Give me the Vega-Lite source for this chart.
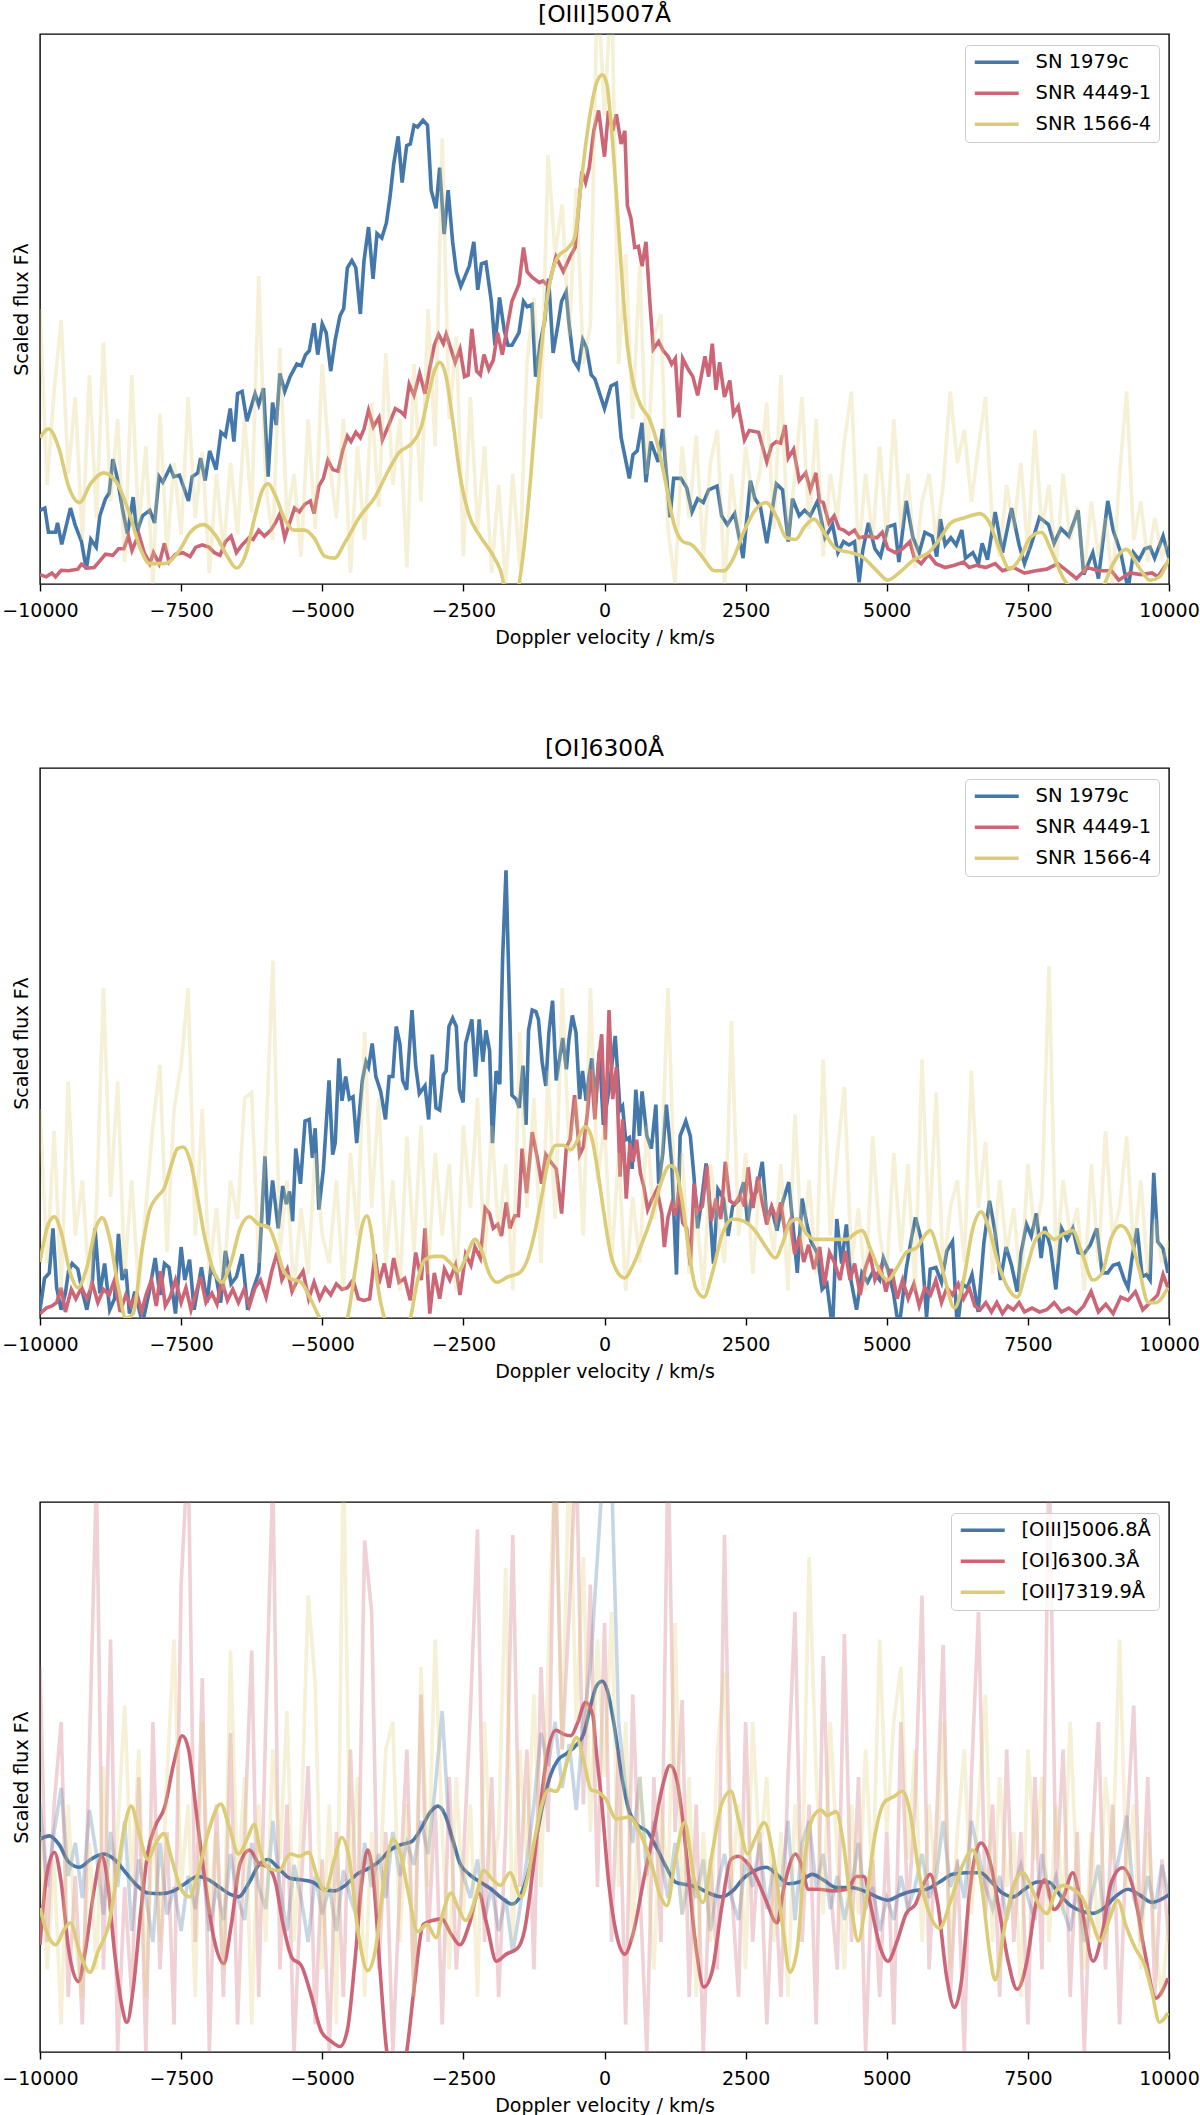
{
"$schema":"https://vega.github.io/schema/vega-lite/v6.json",
"background":"white",
"padding":{"left":1,"top":1,"right":0,"bottom":0},
"spacing":184,
"bounds":"flush",
"config":{
 "font":"DejaVu Sans",
 "view":{"stroke":"black","strokeWidth":1.4},
 "axis":{"grid":false,"domain":false,"labelFontSize":19,"titleFontSize":19,"titleFontWeight":"normal","labelColor":"black","titleColor":"black","tickColor":"black","tickWidth":1.4},
 "title":{"fontSize":23.4,"fontWeight":"normal","color":"black","offset":7,"anchor":"middle"},
 "legend":{"title":null,"orient":"top-right","offset":10.5,"symbolType":"M-1.07,0H5.21","symbolSize":196,"symbolStrokeWidth":3.6,"labelFontSize":19.5,"labelOffset":43.5,"padding":7.5,"rowPadding":10,"fillColor":"rgba(255,255,255,0.8)","strokeColor":"#cccccc","cornerRadius":4,"labelLimit":0,"labelColor":"black"}
},
"datasets":{
"p1":[
{"s":"a","x":-10000,"y":13.4},{"s":"a","x":-9915,"y":13.8},{"s":"a","x":-9850,"y":9.4},{"s":"a","x":-9725,"y":9.4},{"s":"a","x":-9690,"y":11.1},{"s":"a","x":-9615,"y":7.2},{"s":"a","x":-9460,"y":13.8},{"s":"a","x":-9380,"y":10.8},{"s":"a","x":-9265,"y":7.7},{"s":"a","x":-9180,"y":2.7},{"s":"a","x":-9100,"y":8.1},{"s":"a","x":-9005,"y":6.7},{"s":"a","x":-8940,"y":12.4},{"s":"a","x":-8840,"y":15.5},{"s":"a","x":-8775,"y":16.5},{"s":"a","x":-8710,"y":22.7},{"s":"a","x":-8630,"y":19.2},{"s":"a","x":-8530,"y":13.1},{"s":"a","x":-8450,"y":9.1},{"s":"a","x":-8350,"y":15.8},{"s":"a","x":-8285,"y":9.4},{"s":"a","x":-8185,"y":12.4},{"s":"a","x":-8055,"y":13.4},{"s":"a","x":-7970,"y":11.1},{"s":"a","x":-7890,"y":19.5},{"s":"a","x":-7825,"y":18.5},{"s":"a","x":-7695,"y":21.2},{"s":"a","x":-7630,"y":19.5},{"s":"a","x":-7530,"y":19.8},{"s":"a","x":-7370,"y":15.1},{"s":"a","x":-7305,"y":19.5},{"s":"a","x":-7205,"y":20.2},{"s":"a","x":-7155,"y":22.9},{"s":"a","x":-7075,"y":18.8},{"s":"a","x":-6995,"y":24.2},{"s":"a","x":-6880,"y":20.8},{"s":"a","x":-6795,"y":27.6},{"s":"a","x":-6715,"y":26.9},{"s":"a","x":-6630,"y":31.9},{"s":"a","x":-6565,"y":25.9},{"s":"a","x":-6500,"y":34.6},{"s":"a","x":-6420,"y":35.0},{"s":"a","x":-6335,"y":29.6},{"s":"a","x":-6190,"y":34.6},{"s":"a","x":-6125,"y":32.6},{"s":"a","x":-6040,"y":35.6},{"s":"a","x":-5960,"y":19.5},{"s":"a","x":-5880,"y":33.0},{"s":"a","x":-5815,"y":28.9},{"s":"a","x":-5750,"y":38.3},{"s":"a","x":-5665,"y":35.0},{"s":"a","x":-5570,"y":37.7},{"s":"a","x":-5450,"y":40.0},{"s":"a","x":-5370,"y":39.7},{"s":"a","x":-5295,"y":41.7},{"s":"a","x":-5230,"y":42.4},{"s":"a","x":-5145,"y":47.4},{"s":"a","x":-5080,"y":41.7},{"s":"a","x":-5000,"y":47.3},{"s":"a","x":-4930,"y":45.7},{"s":"a","x":-4850,"y":38.7},{"s":"a","x":-4770,"y":44.4},{"s":"a","x":-4685,"y":48.8},{"s":"a","x":-4620,"y":50.1},{"s":"a","x":-4555,"y":57.5},{"s":"a","x":-4475,"y":58.8},{"s":"a","x":-4405,"y":57.5},{"s":"a","x":-4325,"y":49.1},{"s":"a","x":-4260,"y":58.8},{"s":"a","x":-4180,"y":64.9},{"s":"a","x":-4100,"y":55.5},{"s":"a","x":-4030,"y":63.7},{"s":"a","x":-3945,"y":62.9},{"s":"a","x":-3865,"y":65.6},{"s":"a","x":-3800,"y":70.3},{"s":"a","x":-3735,"y":76.3},{"s":"a","x":-3655,"y":81.4},{"s":"a","x":-3585,"y":73.0},{"s":"a","x":-3505,"y":79.7},{"s":"a","x":-3440,"y":80.0},{"s":"a","x":-3375,"y":83.4},{"s":"a","x":-3310,"y":83.1},{"s":"a","x":-3215,"y":84.3},{"s":"a","x":-3135,"y":83.4},{"s":"a","x":-3070,"y":71.6},{"s":"a","x":-2985,"y":68.3},{"s":"a","x":-2920,"y":75.7},{"s":"a","x":-2840,"y":63.6},{"s":"a","x":-2770,"y":71.6},{"s":"a","x":-2690,"y":62.2},{"s":"a","x":-2625,"y":56.8},{"s":"a","x":-2545,"y":54.1},{"s":"a","x":-2460,"y":56.2},{"s":"a","x":-2395,"y":57.8},{"s":"a","x":-2315,"y":62.2},{"s":"a","x":-2245,"y":53.5},{"s":"a","x":-2180,"y":58.2},{"s":"a","x":-2100,"y":58.5},{"s":"a","x":-2005,"y":51.4},{"s":"a","x":-1940,"y":43.4},{"s":"a","x":-1860,"y":52.1},{"s":"a","x":-1775,"y":46.1},{"s":"a","x":-1710,"y":43.4},{"s":"a","x":-1640,"y":43.4},{"s":"a","x":-1515,"y":45.7},{"s":"a","x":-1435,"y":51.4},{"s":"a","x":-1370,"y":50.4},{"s":"a","x":-1285,"y":50.8},{"s":"a","x":-1220,"y":37.7},{"s":"a","x":-1135,"y":44.0},{"s":"a","x":-1055,"y":48.1},{"s":"a","x":-990,"y":55.5},{"s":"a","x":-910,"y":42.0},{"s":"a","x":-825,"y":47.1},{"s":"a","x":-760,"y":51.4},{"s":"a","x":-680,"y":53.1},{"s":"a","x":-630,"y":47.4},{"s":"a","x":-550,"y":40.7},{"s":"a","x":-465,"y":39.3},{"s":"a","x":-385,"y":44.4},{"s":"a","x":-320,"y":43.0},{"s":"a","x":-235,"y":38.0},{"s":"a","x":-170,"y":37.3},{"s":"a","x":0,"y":31.9},{"s":"a","x":115,"y":36.0},{"s":"a","x":210,"y":36.5},{"s":"a","x":295,"y":26.6},{"s":"a","x":440,"y":19.2},{"s":"a","x":505,"y":23.5},{"s":"a","x":580,"y":24.2},{"s":"a","x":665,"y":29.3},{"s":"a","x":735,"y":18.5},{"s":"a","x":820,"y":25.9},{"s":"a","x":950,"y":22.2},{"s":"a","x":1030,"y":28.2},{"s":"a","x":1160,"y":12.1},{"s":"a","x":1225,"y":19.2},{"s":"a","x":1355,"y":19.2},{"s":"a","x":1455,"y":17.5},{"s":"a","x":1550,"y":13.1},{"s":"a","x":1650,"y":15.5},{"s":"a","x":1750,"y":14.8},{"s":"a","x":1845,"y":17.1},{"s":"a","x":1995,"y":17.8},{"s":"a","x":2075,"y":12.4},{"s":"a","x":2175,"y":10.8},{"s":"a","x":2305,"y":12.8},{"s":"a","x":2455,"y":4.7},{"s":"a","x":2585,"y":18.8},{"s":"a","x":2665,"y":15.5},{"s":"a","x":2760,"y":14.1},{"s":"a","x":2875,"y":7.4},{"s":"a","x":3045,"y":18.2},{"s":"a","x":3155,"y":17.1},{"s":"a","x":3255,"y":7.7},{"s":"a","x":3330,"y":15.5},{"s":"a","x":3450,"y":12.4},{"s":"a","x":3545,"y":13.4},{"s":"a","x":3645,"y":12.4},{"s":"a","x":3775,"y":15.1},{"s":"a","x":3905,"y":8.4},{"s":"a","x":4040,"y":10.8},{"s":"a","x":4135,"y":5.7},{"s":"a","x":4235,"y":7.7},{"s":"a","x":4330,"y":7.1},{"s":"a","x":4430,"y":7.7},{"s":"a","x":4510,"y":0.3},{"s":"a","x":4575,"y":6.1},{"s":"a","x":4675,"y":11.1},{"s":"a","x":4790,"y":6.4},{"s":"a","x":4890,"y":5.0},{"s":"a","x":5020,"y":10.4},{"s":"a","x":5140,"y":10.8},{"s":"a","x":5215,"y":4.0},{"s":"a","x":5345,"y":15.1},{"s":"a","x":5465,"y":8.4},{"s":"a","x":5575,"y":5.7},{"s":"a","x":5675,"y":9.4},{"s":"a","x":5805,"y":8.7},{"s":"a","x":5885,"y":5.0},{"s":"a","x":5950,"y":11.8},{"s":"a","x":6035,"y":7.1},{"s":"a","x":6135,"y":8.4},{"s":"a","x":6230,"y":7.1},{"s":"a","x":6330,"y":9.8},{"s":"a","x":6395,"y":4.7},{"s":"a","x":6525,"y":5.7},{"s":"a","x":6625,"y":3.7},{"s":"a","x":6690,"y":7.4},{"s":"a","x":6785,"y":4.4},{"s":"a","x":6920,"y":13.1},{"s":"a","x":7050,"y":5.7},{"s":"a","x":7210,"y":13.8},{"s":"a","x":7345,"y":7.1},{"s":"a","x":7440,"y":3.7},{"s":"a","x":7575,"y":7.7},{"s":"a","x":7705,"y":12.1},{"s":"a","x":7865,"y":10.8},{"s":"a","x":7965,"y":7.4},{"s":"a","x":8085,"y":10.1},{"s":"a","x":8225,"y":8.7},{"s":"a","x":8390,"y":13.4},{"s":"a","x":8490,"y":1.7},{"s":"a","x":8650,"y":5.7},{"s":"a","x":8750,"y":1.0},{"s":"a","x":8915,"y":15.1},{"s":"a","x":9010,"y":9.8},{"s":"a","x":9145,"y":5.7},{"s":"a","x":9275,"y":-1},{"s":"a","x":9370,"y":5.7},{"s":"a","x":9470,"y":4.4},{"s":"a","x":9570,"y":6.4},{"s":"a","x":9665,"y":6.7},{"s":"a","x":9745,"y":4.7},{"s":"a","x":9895,"y":8.7},{"s":"a","x":10000,"y":4.7},
{"s":"b","x":-10000,"y":1.7},{"s":"b","x":-9890,"y":1.3},{"s":"b","x":-9790,"y":2.0},{"s":"b","x":-9725,"y":1.3},{"s":"b","x":-9625,"y":2.5},{"s":"b","x":-9495,"y":2.4},{"s":"b","x":-9330,"y":2.7},{"s":"b","x":-9265,"y":3.6},{"s":"b","x":-9170,"y":2.9},{"s":"b","x":-9040,"y":3.0},{"s":"b","x":-8940,"y":4.2},{"s":"b","x":-8840,"y":5.4},{"s":"b","x":-8710,"y":5.2},{"s":"b","x":-8610,"y":6.4},{"s":"b","x":-8515,"y":6.4},{"s":"b","x":-8435,"y":8.7},{"s":"b","x":-8370,"y":6.1},{"s":"b","x":-8250,"y":9.1},{"s":"b","x":-8155,"y":5.7},{"s":"b","x":-8055,"y":3.7},{"s":"b","x":-7990,"y":5.7},{"s":"b","x":-7890,"y":3.7},{"s":"b","x":-7795,"y":7.4},{"s":"b","x":-7715,"y":4.0},{"s":"b","x":-7600,"y":5.4},{"s":"b","x":-7470,"y":5.7},{"s":"b","x":-7340,"y":5.0},{"s":"b","x":-7240,"y":6.7},{"s":"b","x":-7125,"y":7.1},{"s":"b","x":-7010,"y":6.7},{"s":"b","x":-6910,"y":5.7},{"s":"b","x":-6810,"y":5.2},{"s":"b","x":-6715,"y":7.7},{"s":"b","x":-6615,"y":8.7},{"s":"b","x":-6520,"y":5.7},{"s":"b","x":-6420,"y":7.1},{"s":"b","x":-6300,"y":8.4},{"s":"b","x":-6225,"y":8.1},{"s":"b","x":-6125,"y":9.8},{"s":"b","x":-6025,"y":8.7},{"s":"b","x":-5910,"y":9.8},{"s":"b","x":-5830,"y":11.1},{"s":"b","x":-5750,"y":12.8},{"s":"b","x":-5665,"y":8.4},{"s":"b","x":-5570,"y":11.4},{"s":"b","x":-5490,"y":13.8},{"s":"b","x":-5405,"y":13.1},{"s":"b","x":-5310,"y":14.5},{"s":"b","x":-5210,"y":15.1},{"s":"b","x":-5145,"y":12.8},{"s":"b","x":-5060,"y":17.8},{"s":"b","x":-4980,"y":19.2},{"s":"b","x":-4900,"y":22.5},{"s":"b","x":-4815,"y":20.8},{"s":"b","x":-4720,"y":20.5},{"s":"b","x":-4640,"y":24.2},{"s":"b","x":-4555,"y":26.9},{"s":"b","x":-4490,"y":25.9},{"s":"b","x":-4405,"y":27.6},{"s":"b","x":-4325,"y":26.6},{"s":"b","x":-4260,"y":28.2},{"s":"b","x":-4180,"y":31.6},{"s":"b","x":-4095,"y":28.6},{"s":"b","x":-3995,"y":30.3},{"s":"b","x":-3935,"y":26.2},{"s":"b","x":-3835,"y":28.6},{"s":"b","x":-3705,"y":31.9},{"s":"b","x":-3605,"y":31.3},{"s":"b","x":-3540,"y":30.6},{"s":"b","x":-3460,"y":36.3},{"s":"b","x":-3375,"y":34.3},{"s":"b","x":-3275,"y":38.3},{"s":"b","x":-3180,"y":34.6},{"s":"b","x":-3095,"y":39.3},{"s":"b","x":-3015,"y":43.4},{"s":"b","x":-2940,"y":45.4},{"s":"b","x":-2855,"y":43.7},{"s":"b","x":-2805,"y":45.4},{"s":"b","x":-2720,"y":42.7},{"s":"b","x":-2645,"y":40.3},{"s":"b","x":-2560,"y":42.7},{"s":"b","x":-2480,"y":37.7},{"s":"b","x":-2415,"y":38.0},{"s":"b","x":-2350,"y":46.4},{"s":"b","x":-2265,"y":38.7},{"s":"b","x":-2200,"y":38.0},{"s":"b","x":-2135,"y":41.7},{"s":"b","x":-2050,"y":39.0},{"s":"b","x":-1970,"y":40.7},{"s":"b","x":-1895,"y":45.7},{"s":"b","x":-1810,"y":41.7},{"s":"b","x":-1710,"y":47.4},{"s":"b","x":-1640,"y":51.4},{"s":"b","x":-1515,"y":54.5},{"s":"b","x":-1435,"y":61.2},{"s":"b","x":-1370,"y":56.8},{"s":"b","x":-1285,"y":55.8},{"s":"b","x":-1155,"y":54.8},{"s":"b","x":-1090,"y":55.1},{"s":"b","x":-990,"y":54.1},{"s":"b","x":-860,"y":59.5},{"s":"b","x":-730,"y":56.8},{"s":"b","x":-610,"y":59.5},{"s":"b","x":-520,"y":61.2},{"s":"b","x":-400,"y":75.0},{"s":"b","x":-335,"y":73.0},{"s":"b","x":-270,"y":75.7},{"s":"b","x":-190,"y":82.4},{"s":"b","x":-105,"y":86.1},{"s":"b","x":0,"y":77.7},{"s":"b","x":70,"y":86.0},{"s":"b","x":145,"y":82.4},{"s":"b","x":210,"y":85.4},{"s":"b","x":295,"y":80.0},{"s":"b","x":360,"y":82.4},{"s":"b","x":405,"y":68.8},{"s":"b","x":470,"y":66.4},{"s":"b","x":535,"y":61.2},{"s":"b","x":600,"y":61.4},{"s":"b","x":665,"y":57.8},{"s":"b","x":735,"y":62.2},{"s":"b","x":800,"y":51.8},{"s":"b","x":865,"y":42.7},{"s":"b","x":960,"y":44.1},{"s":"b","x":1040,"y":42.4},{"s":"b","x":1125,"y":41.4},{"s":"b","x":1190,"y":40.0},{"s":"b","x":1255,"y":41.0},{"s":"b","x":1320,"y":30.3},{"s":"b","x":1385,"y":41.0},{"s":"b","x":1485,"y":39.0},{"s":"b","x":1565,"y":37.7},{"s":"b","x":1650,"y":34.3},{"s":"b","x":1780,"y":41.4},{"s":"b","x":1845,"y":37.7},{"s":"b","x":1910,"y":43.7},{"s":"b","x":1975,"y":35.3},{"s":"b","x":2040,"y":40.3},{"s":"b","x":2125,"y":34.0},{"s":"b","x":2220,"y":37.0},{"s":"b","x":2285,"y":30.9},{"s":"b","x":2370,"y":32.3},{"s":"b","x":2480,"y":26.2},{"s":"b","x":2565,"y":27.9},{"s":"b","x":2730,"y":27.6},{"s":"b","x":2875,"y":22.2},{"s":"b","x":2960,"y":25.2},{"s":"b","x":3045,"y":25.9},{"s":"b","x":3120,"y":25.6},{"s":"b","x":3200,"y":28.9},{"s":"b","x":3255,"y":22.9},{"s":"b","x":3350,"y":24.5},{"s":"b","x":3450,"y":18.8},{"s":"b","x":3565,"y":20.2},{"s":"b","x":3645,"y":17.1},{"s":"b","x":3745,"y":20.2},{"s":"b","x":3810,"y":15.1},{"s":"b","x":3875,"y":14.8},{"s":"b","x":3975,"y":11.1},{"s":"b","x":4070,"y":12.4},{"s":"b","x":4155,"y":10.1},{"s":"b","x":4235,"y":9.8},{"s":"b","x":4330,"y":9.1},{"s":"b","x":4430,"y":9.8},{"s":"b","x":4510,"y":8.4},{"s":"b","x":4660,"y":8.7},{"s":"b","x":4825,"y":8.4},{"s":"b","x":4920,"y":9.4},{"s":"b","x":5020,"y":6.4},{"s":"b","x":5150,"y":5.7},{"s":"b","x":5280,"y":6.4},{"s":"b","x":5410,"y":7.7},{"s":"b","x":5490,"y":4.7},{"s":"b","x":5610,"y":3.7},{"s":"b","x":5740,"y":5.4},{"s":"b","x":5870,"y":3.7},{"s":"b","x":6035,"y":3.0},{"s":"b","x":6200,"y":3.4},{"s":"b","x":6360,"y":4.0},{"s":"b","x":6460,"y":3.0},{"s":"b","x":6590,"y":3.4},{"s":"b","x":6755,"y":3.0},{"s":"b","x":6920,"y":3.7},{"s":"b","x":7050,"y":2.4},{"s":"b","x":7245,"y":3.0},{"s":"b","x":7440,"y":2.0},{"s":"b","x":7640,"y":2.4},{"s":"b","x":7835,"y":2.7},{"s":"b","x":8030,"y":3.7},{"s":"b","x":8195,"y":2.4},{"s":"b","x":8360,"y":1.0},{"s":"b","x":8555,"y":3.0},{"s":"b","x":8750,"y":2.4},{"s":"b","x":8980,"y":2.4},{"s":"b","x":9110,"y":0.7},{"s":"b","x":9305,"y":2.0},{"s":"b","x":9505,"y":1.7},{"s":"b","x":9700,"y":2.0},{"s":"b","x":9800,"y":1.3},{"s":"b","x":9960,"y":3.7},
{"s":"c","x":-10000,"y":26.6},{"s":"c","x":-9850,"y":28.2},{"s":"c","x":-9660,"y":24.5},{"s":"c","x":-9495,"y":17.8},{"s":"c","x":-9300,"y":14.8},{"s":"c","x":-9105,"y":18.2},{"s":"c","x":-8875,"y":20.2},{"s":"c","x":-8645,"y":18.5},{"s":"c","x":-8415,"y":12.8},{"s":"c","x":-8220,"y":6.4},{"s":"c","x":-8055,"y":3.7},{"s":"c","x":-7795,"y":3.7},{"s":"c","x":-7530,"y":6.1},{"s":"c","x":-7340,"y":9.4},{"s":"c","x":-7105,"y":10.8},{"s":"c","x":-6880,"y":8.7},{"s":"c","x":-6680,"y":5.0},{"s":"c","x":-6520,"y":2.9},{"s":"c","x":-6355,"y":5.4},{"s":"c","x":-6190,"y":12.4},{"s":"c","x":-6060,"y":17.1},{"s":"c","x":-5960,"y":18.2},{"s":"c","x":-5830,"y":16.1},{"s":"c","x":-5665,"y":11.8},{"s":"c","x":-5505,"y":9.8},{"s":"c","x":-5310,"y":9.8},{"s":"c","x":-5145,"y":8.4},{"s":"c","x":-4950,"y":5.0},{"s":"c","x":-4785,"y":4.7},{"s":"c","x":-4590,"y":7.7},{"s":"c","x":-4325,"y":12.4},{"s":"c","x":-4065,"y":15.8},{"s":"c","x":-3835,"y":20.5},{"s":"c","x":-3640,"y":23.9},{"s":"c","x":-3410,"y":25.6},{"s":"c","x":-3245,"y":28.6},{"s":"c","x":-3115,"y":34.6},{"s":"c","x":-3015,"y":38.7},{"s":"c","x":-2920,"y":40.3},{"s":"c","x":-2820,"y":38.3},{"s":"c","x":-2690,"y":29.9},{"s":"c","x":-2560,"y":19.8},{"s":"c","x":-2395,"y":12.4},{"s":"c","x":-2230,"y":9.1},{"s":"c","x":-2005,"y":5.7},{"s":"c","x":-1840,"y":2.4},{"s":"c","x":-1700,"y":-3},{"s":"c","x":-1560,"y":-2},{"s":"c","x":-1445,"y":5.0},{"s":"c","x":-1315,"y":18.5},{"s":"c","x":-1185,"y":35.3},{"s":"c","x":-1055,"y":48.8},{"s":"c","x":-925,"y":56.8},{"s":"c","x":-825,"y":59.5},{"s":"c","x":-665,"y":60.9},{"s":"c","x":-530,"y":62.9},{"s":"c","x":-435,"y":70.9},{"s":"c","x":-335,"y":79.7},{"s":"c","x":-240,"y":86.4},{"s":"c","x":-140,"y":91.1},{"s":"c","x":-35,"y":92.6},{"s":"c","x":45,"y":90.8},{"s":"c","x":110,"y":84.4},{"s":"c","x":210,"y":70.9},{"s":"c","x":310,"y":55.5},{"s":"c","x":405,"y":43.4},{"s":"c","x":505,"y":36.7},{"s":"c","x":635,"y":32.6},{"s":"c","x":800,"y":29.9},{"s":"c","x":960,"y":24.5},{"s":"c","x":1095,"y":17.8},{"s":"c","x":1225,"y":11.1},{"s":"c","x":1390,"y":7.7},{"s":"c","x":1550,"y":7.1},{"s":"c","x":1750,"y":4.7},{"s":"c","x":1945,"y":2.4},{"s":"c","x":2105,"y":2.4},{"s":"c","x":2270,"y":4.4},{"s":"c","x":2465,"y":9.4},{"s":"c","x":2665,"y":13.4},{"s":"c","x":2860,"y":14.8},{"s":"c","x":3055,"y":12.1},{"s":"c","x":3220,"y":8.4},{"s":"c","x":3385,"y":8.1},{"s":"c","x":3545,"y":10.4},{"s":"c","x":3710,"y":11.8},{"s":"c","x":3905,"y":9.1},{"s":"c","x":4105,"y":6.4},{"s":"c","x":4365,"y":5.7},{"s":"c","x":4560,"y":5.0},{"s":"c","x":4825,"y":2.4},{"s":"c","x":5020,"y":0.7},{"s":"c","x":5215,"y":2.0},{"s":"c","x":5480,"y":4.4},{"s":"c","x":5740,"y":5.7},{"s":"c","x":5935,"y":8.1},{"s":"c","x":6135,"y":11.1},{"s":"c","x":6395,"y":12.1},{"s":"c","x":6655,"y":12.8},{"s":"c","x":6820,"y":11.1},{"s":"c","x":6985,"y":6.7},{"s":"c","x":7180,"y":2.7},{"s":"c","x":7345,"y":4.4},{"s":"c","x":7540,"y":8.4},{"s":"c","x":7735,"y":9.4},{"s":"c","x":7930,"y":5.7},{"s":"c","x":8130,"y":1.0},{"s":"c","x":8290,"y":-1},{"s":"c","x":8550,"y":-4},{"s":"c","x":8815,"y":-1},{"s":"c","x":9010,"y":3.7},{"s":"c","x":9240,"y":6.3},{"s":"c","x":9470,"y":3.0},{"s":"c","x":9665,"y":0.7},{"s":"c","x":9830,"y":1.3},{"s":"c","x":10000,"y":4.7},
{"s":"r","x":-10000,"y":50},{"s":"r","x":-9875,"y":18},{"s":"r","x":-9750,"y":35},{"s":"r","x":-9625,"y":48},{"s":"r","x":-9500,"y":20},{"s":"r","x":-9375,"y":34},{"s":"r","x":-9250,"y":8},{"s":"r","x":-9125,"y":38},{"s":"r","x":-9000,"y":12},{"s":"r","x":-8875,"y":44},
{"s":"r","x":-8750,"y":15},{"s":"r","x":-8625,"y":30},{"s":"r","x":-8500,"y":4},{"s":"r","x":-8375,"y":38},{"s":"r","x":-8250,"y":10},{"s":"r","x":-8125,"y":25},{"s":"r","x":-8000,"y":0},{"s":"r","x":-7875,"y":31},{"s":"r","x":-7750,"y":6},{"s":"r","x":-7625,"y":22},
{"s":"r","x":-7500,"y":9},{"s":"r","x":-7375,"y":34},{"s":"r","x":-7250,"y":12},{"s":"r","x":-7125,"y":24},{"s":"r","x":-7000,"y":2},{"s":"r","x":-6875,"y":20},{"s":"r","x":-6750,"y":6},{"s":"r","x":-6625,"y":22},{"s":"r","x":-6500,"y":9},{"s":"r","x":-6375,"y":30},
{"s":"r","x":-6250,"y":13},{"s":"r","x":-6125,"y":56},{"s":"r","x":-6000,"y":18},{"s":"r","x":-5875,"y":8},{"s":"r","x":-5750,"y":43},{"s":"r","x":-5625,"y":12},{"s":"r","x":-5500,"y":20},{"s":"r","x":-5375,"y":5},{"s":"r","x":-5250,"y":30},{"s":"r","x":-5125,"y":10},
{"s":"r","x":-5000,"y":40},{"s":"r","x":-4875,"y":22},{"s":"r","x":-4750,"y":12},{"s":"r","x":-4625,"y":30},{"s":"r","x":-4500,"y":2},{"s":"r","x":-4375,"y":25},{"s":"r","x":-4250,"y":8},{"s":"r","x":-4125,"y":33},{"s":"r","x":-4000,"y":14},{"s":"r","x":-3875,"y":42},
{"s":"r","x":-3750,"y":18},{"s":"r","x":-3625,"y":30},{"s":"r","x":-3500,"y":3},{"s":"r","x":-3375,"y":40},{"s":"r","x":-3250,"y":15},{"s":"r","x":-3125,"y":50},{"s":"r","x":-3000,"y":25},{"s":"r","x":-2875,"y":81},{"s":"r","x":-2750,"y":30},{"s":"r","x":-2625,"y":45},
{"s":"r","x":-2500,"y":5},{"s":"r","x":-2375,"y":34},{"s":"r","x":-2250,"y":10},{"s":"r","x":-2125,"y":25},{"s":"r","x":-2000,"y":2},{"s":"r","x":-1875,"y":18},{"s":"r","x":-1750,"y":0},{"s":"r","x":-1625,"y":20},{"s":"r","x":-1500,"y":3},{"s":"r","x":-1375,"y":40},
{"s":"r","x":-1250,"y":52},{"s":"r","x":-1125,"y":30},{"s":"r","x":-1000,"y":78},{"s":"r","x":-875,"y":60},{"s":"r","x":-750,"y":69},{"s":"r","x":-625,"y":45},{"s":"r","x":-500,"y":72},{"s":"r","x":-375,"y":40},{"s":"r","x":-250,"y":47},{"s":"r","x":-125,"y":110},
{"s":"r","x":0,"y":85},{"s":"r","x":125,"y":110},{"s":"r","x":250,"y":40},{"s":"r","x":375,"y":60},{"s":"r","x":500,"y":30},{"s":"r","x":625,"y":58},{"s":"r","x":750,"y":20},{"s":"r","x":875,"y":45},{"s":"r","x":1000,"y":49},{"s":"r","x":1125,"y":10},
{"s":"r","x":1250,"y":0},{"s":"r","x":1375,"y":25},{"s":"r","x":1500,"y":12},{"s":"r","x":1625,"y":27},{"s":"r","x":1750,"y":5},{"s":"r","x":1875,"y":22},{"s":"r","x":2000,"y":28},{"s":"r","x":2125,"y":0},{"s":"r","x":2250,"y":20},{"s":"r","x":2375,"y":8},
{"s":"r","x":2500,"y":25},{"s":"r","x":2625,"y":15},{"s":"r","x":2750,"y":20},{"s":"r","x":2875,"y":33},{"s":"r","x":3000,"y":10},{"s":"r","x":3125,"y":38},{"s":"r","x":3250,"y":8},{"s":"r","x":3375,"y":20},{"s":"r","x":3500,"y":34},{"s":"r","x":3625,"y":10},
{"s":"r","x":3750,"y":30},{"s":"r","x":3875,"y":5},{"s":"r","x":4000,"y":20},{"s":"r","x":4125,"y":12},{"s":"r","x":4250,"y":26},{"s":"r","x":4375,"y":35},{"s":"r","x":4500,"y":5},{"s":"r","x":4625,"y":20},{"s":"r","x":4750,"y":8},{"s":"r","x":4875,"y":25},
{"s":"r","x":5000,"y":8},{"s":"r","x":5125,"y":30},{"s":"r","x":5250,"y":10},{"s":"r","x":5375,"y":20},{"s":"r","x":5500,"y":3},{"s":"r","x":5625,"y":15},{"s":"r","x":5750,"y":20},{"s":"r","x":5875,"y":8},{"s":"r","x":6000,"y":18},{"s":"r","x":6125,"y":35},
{"s":"r","x":6250,"y":22},{"s":"r","x":6375,"y":28},{"s":"r","x":6500,"y":15},{"s":"r","x":6625,"y":25},{"s":"r","x":6750,"y":34},{"s":"r","x":6875,"y":10},{"s":"r","x":7000,"y":5},{"s":"r","x":7125,"y":18},{"s":"r","x":7250,"y":10},{"s":"r","x":7375,"y":22},
{"s":"r","x":7500,"y":6},{"s":"r","x":7625,"y":28},{"s":"r","x":7750,"y":10},{"s":"r","x":7875,"y":18},{"s":"r","x":8000,"y":3},{"s":"r","x":8125,"y":20},{"s":"r","x":8250,"y":8},{"s":"r","x":8375,"y":14},{"s":"r","x":8500,"y":2},{"s":"r","x":8625,"y":15},
{"s":"r","x":8750,"y":5},{"s":"r","x":8875,"y":12},{"s":"r","x":9000,"y":0},{"s":"r","x":9125,"y":20},{"s":"r","x":9250,"y":35},{"s":"r","x":9375,"y":8},{"s":"r","x":9500,"y":15},{"s":"r","x":9625,"y":4},{"s":"r","x":9750,"y":12},{"s":"r","x":9875,"y":5},{"s":"r","x":10000,"y":8}
],
"p2":[
{"s":"a","x":-10000,"y":1.5},{"s":"a","x":-9920,"y":7.2},{"s":"a","x":-9835,"y":8.2},{"s":"a","x":-9770,"y":16.3},{"s":"a","x":-9705,"y":5.5},{"s":"a","x":-9625,"y":1.5},{"s":"a","x":-9550,"y":4.5},{"s":"a","x":-9495,"y":8.5},{"s":"a","x":-9430,"y":9.9},{"s":"a","x":-9330,"y":8.9},{"s":"a","x":-9265,"y":5.5},{"s":"a","x":-9170,"y":1.5},{"s":"a","x":-9070,"y":6.9},{"s":"a","x":-9025,"y":16.3},{"s":"a","x":-8940,"y":4.5},{"s":"a","x":-8855,"y":9.9},{"s":"a","x":-8765,"y":1.5},{"s":"a","x":-8680,"y":3.5},{"s":"a","x":-8610,"y":15.3},{"s":"a","x":-8545,"y":6.9},{"s":"a","x":-8480,"y":8.9},{"s":"a","x":-8415,"y":0.8},{"s":"a","x":-8320,"y":4.8},{"s":"a","x":-8185,"y":-1},{"s":"a","x":-8070,"y":4.5},{"s":"a","x":-7960,"y":10.9},{"s":"a","x":-7875,"y":4.2},{"s":"a","x":-7795,"y":9.9},{"s":"a","x":-7715,"y":9.2},{"s":"a","x":-7600,"y":0.8},{"s":"a","x":-7500,"y":12.9},{"s":"a","x":-7435,"y":6.9},{"s":"a","x":-7350,"y":10.6},{"s":"a","x":-7270,"y":1.5},{"s":"a","x":-7140,"y":9.2},{"s":"a","x":-7040,"y":2.8},{"s":"a","x":-6975,"y":8.9},{"s":"a","x":-6880,"y":7.5},{"s":"a","x":-6800,"y":2.8},{"s":"a","x":-6715,"y":12.2},{"s":"a","x":-6615,"y":6.2},{"s":"a","x":-6520,"y":7.5},{"s":"a","x":-6420,"y":11.6},{"s":"a","x":-6320,"y":1.5},{"s":"a","x":-6225,"y":5.2},{"s":"a","x":-6125,"y":8.2},{"s":"a","x":-6015,"y":29.4},{"s":"a","x":-5960,"y":16.3},{"s":"a","x":-5880,"y":25.0},{"s":"a","x":-5780,"y":16.3},{"s":"a","x":-5700,"y":24.0},{"s":"a","x":-5635,"y":20.7},{"s":"a","x":-5580,"y":23.0},{"s":"a","x":-5525,"y":17.6},{"s":"a","x":-5470,"y":30.8},{"s":"a","x":-5385,"y":24.4},{"s":"a","x":-5305,"y":35.8},{"s":"a","x":-5230,"y":36.1},{"s":"a","x":-5175,"y":29.1},{"s":"a","x":-5125,"y":34.5},{"s":"a","x":-5060,"y":19.7},{"s":"a","x":-4980,"y":27.1},{"s":"a","x":-4880,"y":43.2},{"s":"a","x":-4815,"y":29.7},{"s":"a","x":-4770,"y":31.8},{"s":"a","x":-4705,"y":47.2},{"s":"a","x":-4650,"y":39.5},{"s":"a","x":-4585,"y":43.9},{"s":"a","x":-4520,"y":39.8},{"s":"a","x":-4455,"y":40.2},{"s":"a","x":-4390,"y":31.8},{"s":"a","x":-4290,"y":43.2},{"s":"a","x":-4225,"y":46.6},{"s":"a","x":-4180,"y":45.6},{"s":"a","x":-4115,"y":49.9},{"s":"a","x":-4050,"y":43.9},{"s":"a","x":-3965,"y":41.2},{"s":"a","x":-3880,"y":36.1},{"s":"a","x":-3815,"y":43.9},{"s":"a","x":-3750,"y":43.9},{"s":"a","x":-3690,"y":53.0},{"s":"a","x":-3625,"y":49.9},{"s":"a","x":-3575,"y":43.2},{"s":"a","x":-3505,"y":41.5},{"s":"a","x":-3410,"y":56.0},{"s":"a","x":-3345,"y":45.9},{"s":"a","x":-3280,"y":40.8},{"s":"a","x":-3180,"y":42.2},{"s":"a","x":-3115,"y":36.1},{"s":"a","x":-3050,"y":47.9},{"s":"a","x":-2985,"y":38.2},{"s":"a","x":-2920,"y":37.8},{"s":"a","x":-2855,"y":44.2},{"s":"a","x":-2805,"y":44.9},{"s":"a","x":-2755,"y":53.0},{"s":"a","x":-2690,"y":54.5},{"s":"a","x":-2625,"y":53.0},{"s":"a","x":-2570,"y":41.5},{"s":"a","x":-2505,"y":39.2},{"s":"a","x":-2460,"y":49.9},{"s":"a","x":-2350,"y":54.3},{"s":"a","x":-2285,"y":43.9},{"s":"a","x":-2220,"y":54.3},{"s":"a","x":-2155,"y":46.6},{"s":"a","x":-2100,"y":52.3},{"s":"a","x":-2035,"y":48.6},{"s":"a","x":-1985,"y":31.8},{"s":"a","x":-1920,"y":44.9},{"s":"a","x":-1855,"y":42.5},{"s":"a","x":-1805,"y":65.4},{"s":"a","x":-1745,"y":81.4},{"s":"a","x":-1695,"y":62.0},{"s":"a","x":-1640,"y":40.5},{"s":"a","x":-1565,"y":39.8},{"s":"a","x":-1510,"y":38.2},{"s":"a","x":-1445,"y":45.9},{"s":"a","x":-1390,"y":35.1},{"s":"a","x":-1345,"y":52.3},{"s":"a","x":-1280,"y":56.0},{"s":"a","x":-1215,"y":55.7},{"s":"a","x":-1170,"y":54.3},{"s":"a","x":-1105,"y":46.6},{"s":"a","x":-1040,"y":42.2},{"s":"a","x":-985,"y":51.9},{"s":"a","x":-920,"y":57.7},{"s":"a","x":-855,"y":43.2},{"s":"a","x":-805,"y":46.6},{"s":"a","x":-740,"y":50.9},{"s":"a","x":-675,"y":45.2},{"s":"a","x":-630,"y":50.6},{"s":"a","x":-570,"y":55.0},{"s":"a","x":-505,"y":51.9},{"s":"a","x":-440,"y":39.8},{"s":"a","x":-390,"y":44.9},{"s":"a","x":-325,"y":39.5},{"s":"a","x":-275,"y":43.9},{"s":"a","x":-225,"y":47.2},{"s":"a","x":-160,"y":39.2},{"s":"a","x":-90,"y":48.6},{"s":"a","x":-20,"y":35.1},{"s":"a","x":80,"y":41.5},{"s":"a","x":190,"y":51.3},{"s":"a","x":275,"y":37.8},{"s":"a","x":320,"y":38.5},{"s":"a","x":375,"y":32.4},{"s":"a","x":440,"y":32.8},{"s":"a","x":490,"y":27.1},{"s":"a","x":555,"y":41.5},{"s":"a","x":620,"y":33.1},{"s":"a","x":665,"y":41.2},{"s":"a","x":750,"y":33.1},{"s":"a","x":830,"y":30.8},{"s":"a","x":910,"y":38.8},{"s":"a","x":960,"y":24.4},{"s":"a","x":1030,"y":29.7},{"s":"a","x":1095,"y":38.8},{"s":"a","x":1190,"y":28.4},{"s":"a","x":1275,"y":7.9},{"s":"a","x":1340,"y":33.1},{"s":"a","x":1440,"y":35.8},{"s":"a","x":1520,"y":33.1},{"s":"a","x":1585,"y":25.7},{"s":"a","x":1650,"y":16.3},{"s":"a","x":1715,"y":21.0},{"s":"a","x":1800,"y":28.1},{"s":"a","x":1865,"y":19.7},{"s":"a","x":1930,"y":9.9},{"s":"a","x":2010,"y":23.4},{"s":"a","x":2110,"y":21.7},{"s":"a","x":2190,"y":14.9},{"s":"a","x":2270,"y":20.3},{"s":"a","x":2370,"y":21.3},{"s":"a","x":2465,"y":24.7},{"s":"a","x":2535,"y":17.3},{"s":"a","x":2600,"y":21.7},{"s":"a","x":2695,"y":23.0},{"s":"a","x":2795,"y":28.4},{"s":"a","x":2875,"y":18.3},{"s":"a","x":2960,"y":20.0},{"s":"a","x":3055,"y":15.9},{"s":"a","x":3155,"y":21.0},{"s":"a","x":3265,"y":24.7},{"s":"a","x":3350,"y":15.6},{"s":"a","x":3415,"y":8.2},{"s":"a","x":3500,"y":21.7},{"s":"a","x":3580,"y":17.3},{"s":"a","x":3660,"y":13.9},{"s":"a","x":3765,"y":11.9},{"s":"a","x":3855,"y":5.2},{"s":"a","x":3940,"y":6.2},{"s":"a","x":4040,"y":-2},{"s":"a","x":4115,"y":18.0},{"s":"a","x":4200,"y":9.9},{"s":"a","x":4285,"y":17.0},{"s":"a","x":4365,"y":6.9},{"s":"a","x":4465,"y":1.5},{"s":"a","x":4560,"y":8.2},{"s":"a","x":4660,"y":6.5},{"s":"a","x":4760,"y":8.5},{"s":"a","x":4875,"y":6.9},{"s":"a","x":4940,"y":10.9},{"s":"a","x":5020,"y":8.9},{"s":"a","x":5120,"y":4.5},{"s":"a","x":5215,"y":-2},{"s":"a","x":5345,"y":8.9},{"s":"a","x":5445,"y":14.9},{"s":"a","x":5510,"y":18.3},{"s":"a","x":5610,"y":14.3},{"s":"a","x":5705,"y":0.1},{"s":"a","x":5770,"y":8.9},{"s":"a","x":5870,"y":9.2},{"s":"a","x":5970,"y":6.5},{"s":"a","x":6065,"y":12.2},{"s":"a","x":6165,"y":13.9},{"s":"a","x":6250,"y":-2},{"s":"a","x":6340,"y":6.2},{"s":"a","x":6425,"y":5.5},{"s":"a","x":6510,"y":7.9},{"s":"a","x":6620,"y":1.1},{"s":"a","x":6720,"y":13.6},{"s":"a","x":6820,"y":21.3},{"s":"a","x":6920,"y":15.6},{"s":"a","x":7015,"y":6.9},{"s":"a","x":7115,"y":12.9},{"s":"a","x":7210,"y":9.6},{"s":"a","x":7310,"y":4.8},{"s":"a","x":7375,"y":11.6},{"s":"a","x":7475,"y":17.0},{"s":"a","x":7560,"y":14.9},{"s":"a","x":7650,"y":19.0},{"s":"a","x":7735,"y":10.9},{"s":"a","x":7800,"y":16.6},{"s":"a","x":7900,"y":12.9},{"s":"a","x":7995,"y":5.2},{"s":"a","x":8095,"y":16.3},{"s":"a","x":8195,"y":14.3},{"s":"a","x":8295,"y":16.3},{"s":"a","x":8390,"y":11.9},{"s":"a","x":8490,"y":11.6},{"s":"a","x":8605,"y":13.3},{"s":"a","x":8720,"y":16.3},{"s":"a","x":8815,"y":8.2},{"s":"a","x":8915,"y":8.2},{"s":"a","x":9010,"y":9.6},{"s":"a","x":9110,"y":9.9},{"s":"a","x":9210,"y":6.9},{"s":"a","x":9275,"y":5.5},{"s":"a","x":9340,"y":10.6},{"s":"a","x":9435,"y":16.3},{"s":"a","x":9525,"y":7.5},{"s":"a","x":9600,"y":7.9},{"s":"a","x":9665,"y":6.9},{"s":"a","x":9730,"y":26.4},{"s":"a","x":9800,"y":13.9},{"s":"a","x":9895,"y":12.6},{"s":"a","x":9980,"y":8.2},
{"s":"b","x":-10000,"y":0.8},{"s":"b","x":-9890,"y":1.8},{"s":"b","x":-9790,"y":2.2},{"s":"b","x":-9705,"y":2.8},{"s":"b","x":-9625,"y":5.5},{"s":"b","x":-9550,"y":1.1},{"s":"b","x":-9445,"y":5.2},{"s":"b","x":-9365,"y":3.5},{"s":"b","x":-9265,"y":5.5},{"s":"b","x":-9170,"y":3.5},{"s":"b","x":-9070,"y":6.2},{"s":"b","x":-8975,"y":2.8},{"s":"b","x":-8875,"y":5.2},{"s":"b","x":-8775,"y":4.2},{"s":"b","x":-8680,"y":6.9},{"s":"b","x":-8580,"y":1.1},{"s":"b","x":-8480,"y":4.2},{"s":"b","x":-8385,"y":2.2},{"s":"b","x":-8285,"y":4.5},{"s":"b","x":-8200,"y":1.1},{"s":"b","x":-8120,"y":4.2},{"s":"b","x":-8025,"y":6.9},{"s":"b","x":-7940,"y":2.2},{"s":"b","x":-7860,"y":8.5},{"s":"b","x":-7780,"y":2.2},{"s":"b","x":-7695,"y":3.8},{"s":"b","x":-7600,"y":6.9},{"s":"b","x":-7500,"y":2.8},{"s":"b","x":-7415,"y":5.5},{"s":"b","x":-7325,"y":1.5},{"s":"b","x":-7240,"y":4.5},{"s":"b","x":-7155,"y":7.5},{"s":"b","x":-7060,"y":2.8},{"s":"b","x":-6955,"y":4.5},{"s":"b","x":-6865,"y":2.5},{"s":"b","x":-6780,"y":6.9},{"s":"b","x":-6680,"y":3.2},{"s":"b","x":-6585,"y":5.2},{"s":"b","x":-6485,"y":2.8},{"s":"b","x":-6385,"y":5.2},{"s":"b","x":-6290,"y":2.2},{"s":"b","x":-6190,"y":5.5},{"s":"b","x":-6095,"y":6.9},{"s":"b","x":-5995,"y":3.8},{"s":"b","x":-5895,"y":8.5},{"s":"b","x":-5800,"y":11.9},{"s":"b","x":-5715,"y":6.9},{"s":"b","x":-5620,"y":8.9},{"s":"b","x":-5535,"y":4.8},{"s":"b","x":-5440,"y":6.9},{"s":"b","x":-5340,"y":8.5},{"s":"b","x":-5240,"y":3.5},{"s":"b","x":-5145,"y":6.5},{"s":"b","x":-5045,"y":3.5},{"s":"b","x":-4950,"y":5.5},{"s":"b","x":-4850,"y":4.2},{"s":"b","x":-4750,"y":6.2},{"s":"b","x":-4650,"y":5.2},{"s":"b","x":-4555,"y":5.5},{"s":"b","x":-4455,"y":6.9},{"s":"b","x":-4360,"y":3.5},{"s":"b","x":-4260,"y":3.2},{"s":"b","x":-4160,"y":3.5},{"s":"b","x":-4065,"y":11.6},{"s":"b","x":-4000,"y":6.2},{"s":"b","x":-3900,"y":9.9},{"s":"b","x":-3815,"y":5.5},{"s":"b","x":-3735,"y":10.9},{"s":"b","x":-3640,"y":6.5},{"s":"b","x":-3540,"y":7.2},{"s":"b","x":-3440,"y":3.2},{"s":"b","x":-3345,"y":11.9},{"s":"b","x":-3245,"y":6.9},{"s":"b","x":-3180,"y":16.3},{"s":"b","x":-3095,"y":0.8},{"s":"b","x":-3015,"y":8.2},{"s":"b","x":-2920,"y":3.5},{"s":"b","x":-2835,"y":8.9},{"s":"b","x":-2740,"y":6.9},{"s":"b","x":-2640,"y":9.6},{"s":"b","x":-2560,"y":4.2},{"s":"b","x":-2460,"y":11.6},{"s":"b","x":-2365,"y":9.6},{"s":"b","x":-2295,"y":12.9},{"s":"b","x":-2200,"y":10.9},{"s":"b","x":-2115,"y":20.0},{"s":"b","x":-2035,"y":19.0},{"s":"b","x":-1970,"y":16.3},{"s":"b","x":-1890,"y":17.0},{"s":"b","x":-1825,"y":14.9},{"s":"b","x":-1740,"y":21.0},{"s":"b","x":-1675,"y":16.3},{"s":"b","x":-1590,"y":18.6},{"s":"b","x":-1525,"y":18.6},{"s":"b","x":-1460,"y":30.8},{"s":"b","x":-1380,"y":22.7},{"s":"b","x":-1280,"y":33.8},{"s":"b","x":-1195,"y":29.4},{"s":"b","x":-1115,"y":24.4},{"s":"b","x":-1040,"y":29.7},{"s":"b","x":-955,"y":28.4},{"s":"b","x":-855,"y":27.1},{"s":"b","x":-760,"y":19.0},{"s":"b","x":-675,"y":31.1},{"s":"b","x":-610,"y":32.4},{"s":"b","x":-530,"y":40.5},{"s":"b","x":-440,"y":29.7},{"s":"b","x":-375,"y":31.1},{"s":"b","x":-305,"y":37.1},{"s":"b","x":-235,"y":45.2},{"s":"b","x":-170,"y":36.1},{"s":"b","x":-105,"y":46.6},{"s":"b","x":-50,"y":51.6},{"s":"b","x":15,"y":32.4},{"s":"b","x":80,"y":56.0},{"s":"b","x":145,"y":39.8},{"s":"b","x":210,"y":45.6},{"s":"b","x":275,"y":25.7},{"s":"b","x":320,"y":36.1},{"s":"b","x":385,"y":21.7},{"s":"b","x":450,"y":31.8},{"s":"b","x":505,"y":28.4},{"s":"b","x":570,"y":32.4},{"s":"b","x":635,"y":26.4},{"s":"b","x":700,"y":23.7},{"s":"b","x":765,"y":19.7},{"s":"b","x":845,"y":21.7},{"s":"b","x":930,"y":23.4},{"s":"b","x":1015,"y":19.0},{"s":"b","x":1060,"y":12.9},{"s":"b","x":1125,"y":18.3},{"s":"b","x":1190,"y":20.7},{"s":"b","x":1255,"y":18.6},{"s":"b","x":1320,"y":23.4},{"s":"b","x":1385,"y":17.3},{"s":"b","x":1455,"y":16.3},{"s":"b","x":1520,"y":9.6},{"s":"b","x":1585,"y":24.4},{"s":"b","x":1650,"y":19.3},{"s":"b","x":1735,"y":20.3},{"s":"b","x":1815,"y":27.7},{"s":"b","x":1890,"y":17.6},{"s":"b","x":1975,"y":21.7},{"s":"b","x":2060,"y":18.0},{"s":"b","x":2140,"y":28.4},{"s":"b","x":2220,"y":21.3},{"s":"b","x":2305,"y":20.7},{"s":"b","x":2400,"y":22.3},{"s":"b","x":2480,"y":20.3},{"s":"b","x":2545,"y":27.4},{"s":"b","x":2630,"y":20.0},{"s":"b","x":2715,"y":25.7},{"s":"b","x":2795,"y":21.0},{"s":"b","x":2875,"y":17.0},{"s":"b","x":2960,"y":20.3},{"s":"b","x":3045,"y":18.0},{"s":"b","x":3120,"y":21.0},{"s":"b","x":3200,"y":15.6},{"s":"b","x":3285,"y":17.6},{"s":"b","x":3370,"y":11.6},{"s":"b","x":3450,"y":14.9},{"s":"b","x":3530,"y":10.2},{"s":"b","x":3615,"y":13.3},{"s":"b","x":3710,"y":8.9},{"s":"b","x":3810,"y":12.9},{"s":"b","x":3895,"y":5.9},{"s":"b","x":3985,"y":11.9},{"s":"b","x":4070,"y":10.2},{"s":"b","x":4170,"y":6.9},{"s":"b","x":4265,"y":12.2},{"s":"b","x":4350,"y":6.9},{"s":"b","x":4430,"y":9.9},{"s":"b","x":4530,"y":4.2},{"s":"b","x":4615,"y":8.9},{"s":"b","x":4705,"y":11.6},{"s":"b","x":4790,"y":6.9},{"s":"b","x":4890,"y":9.2},{"s":"b","x":4985,"y":4.8},{"s":"b","x":5085,"y":8.9},{"s":"b","x":5185,"y":3.5},{"s":"b","x":5280,"y":6.9},{"s":"b","x":5380,"y":3.5},{"s":"b","x":5480,"y":6.2},{"s":"b","x":5575,"y":2.2},{"s":"b","x":5675,"y":5.5},{"s":"b","x":5775,"y":4.2},{"s":"b","x":5870,"y":6.9},{"s":"b","x":5970,"y":2.8},{"s":"b","x":6065,"y":5.5},{"s":"b","x":6165,"y":4.2},{"s":"b","x":6265,"y":6.2},{"s":"b","x":6360,"y":3.5},{"s":"b","x":6460,"y":5.5},{"s":"b","x":6560,"y":2.2},{"s":"b","x":6655,"y":1.5},{"s":"b","x":6755,"y":2.8},{"s":"b","x":6855,"y":1.1},{"s":"b","x":6950,"y":2.8},{"s":"b","x":7050,"y":0.8},{"s":"b","x":7145,"y":2.2},{"s":"b","x":7245,"y":1.5},{"s":"b","x":7345,"y":2.8},{"s":"b","x":7440,"y":1.1},{"s":"b","x":7575,"y":1.8},{"s":"b","x":7705,"y":1.1},{"s":"b","x":7835,"y":1.5},{"s":"b","x":7965,"y":2.8},{"s":"b","x":8095,"y":1.1},{"s":"b","x":8225,"y":1.8},{"s":"b","x":8360,"y":0.8},{"s":"b","x":8490,"y":2.2},{"s":"b","x":8620,"y":4.8},{"s":"b","x":8750,"y":1.1},{"s":"b","x":8880,"y":2.5},{"s":"b","x":9010,"y":0.8},{"s":"b","x":9145,"y":3.8},{"s":"b","x":9275,"y":3.2},{"s":"b","x":9405,"y":4.8},{"s":"b","x":9535,"y":1.5},{"s":"b","x":9665,"y":2.8},{"s":"b","x":9800,"y":4.2},{"s":"b","x":9895,"y":7.9},{"s":"b","x":9980,"y":5.5},
{"s":"c","x":-10000,"y":10.2},{"s":"c","x":-9855,"y":17.0},{"s":"c","x":-9745,"y":18.4},{"s":"c","x":-9625,"y":15.6},{"s":"c","x":-9465,"y":8.2},{"s":"c","x":-9330,"y":5.5},{"s":"c","x":-9170,"y":9.2},{"s":"c","x":-9005,"y":16.6},{"s":"c","x":-8895,"y":18.2},{"s":"c","x":-8775,"y":14.9},{"s":"c","x":-8610,"y":5.5},{"s":"c","x":-8480,"y":0},{"s":"c","x":-8350,"y":0.8},{"s":"c","x":-8185,"y":12.9},{"s":"c","x":-8055,"y":19.7},{"s":"c","x":-7925,"y":22.0},{"s":"c","x":-7795,"y":23.7},{"s":"c","x":-7665,"y":28.1},{"s":"c","x":-7565,"y":30.8},{"s":"c","x":-7465,"y":31.1},{"s":"c","x":-7335,"y":28.4},{"s":"c","x":-7205,"y":21.7},{"s":"c","x":-7075,"y":14.3},{"s":"c","x":-6910,"y":8.2},{"s":"c","x":-6780,"y":6.5},{"s":"c","x":-6615,"y":10.2},{"s":"c","x":-6455,"y":16.3},{"s":"c","x":-6290,"y":18.4},{"s":"c","x":-6125,"y":17.0},{"s":"c","x":-5960,"y":16.6},{"s":"c","x":-5830,"y":13.6},{"s":"c","x":-5700,"y":8.9},{"s":"c","x":-5570,"y":7.2},{"s":"c","x":-5375,"y":6.5},{"s":"c","x":-5210,"y":3.5},{"s":"c","x":-5045,"y":0},{"s":"c","x":-4800,"y":-4},{"s":"c","x":-4555,"y":0},{"s":"c","x":-4425,"y":8.2},{"s":"c","x":-4290,"y":17.0},{"s":"c","x":-4210,"y":18.6},{"s":"c","x":-4130,"y":15.6},{"s":"c","x":-4030,"y":6.9},{"s":"c","x":-3900,"y":0},{"s":"c","x":-3670,"y":-4},{"s":"c","x":-3440,"y":0},{"s":"c","x":-3310,"y":6.9},{"s":"c","x":-3180,"y":10.6},{"s":"c","x":-3015,"y":11.2},{"s":"c","x":-2885,"y":11.2},{"s":"c","x":-2720,"y":9.9},{"s":"c","x":-2590,"y":8.5},{"s":"c","x":-2460,"y":10.9},{"s":"c","x":-2295,"y":14.3},{"s":"c","x":-2165,"y":11.9},{"s":"c","x":-2035,"y":7.9},{"s":"c","x":-1905,"y":6.5},{"s":"c","x":-1710,"y":7.5},{"s":"c","x":-1510,"y":8.2},{"s":"c","x":-1380,"y":10.2},{"s":"c","x":-1250,"y":14.9},{"s":"c","x":-1120,"y":21.7},{"s":"c","x":-990,"y":28.7},{"s":"c","x":-855,"y":31.4},{"s":"c","x":-725,"y":31.4},{"s":"c","x":-595,"y":30.6},{"s":"c","x":-475,"y":32.4},{"s":"c","x":-345,"y":34.8},{"s":"c","x":-235,"y":33.1},{"s":"c","x":-135,"y":27.7},{"s":"c","x":-20,"y":19.7},{"s":"c","x":110,"y":11.6},{"s":"c","x":240,"y":8.2},{"s":"c","x":360,"y":7.3},{"s":"c","x":505,"y":9.6},{"s":"c","x":665,"y":13.6},{"s":"c","x":830,"y":18.3},{"s":"c","x":995,"y":24.4},{"s":"c","x":1160,"y":27.7},{"s":"c","x":1255,"y":27.1},{"s":"c","x":1370,"y":21.7},{"s":"c","x":1485,"y":12.9},{"s":"c","x":1615,"y":5.5},{"s":"c","x":1760,"y":3.8},{"s":"c","x":1910,"y":8.2},{"s":"c","x":2075,"y":14.9},{"s":"c","x":2270,"y":18.0},{"s":"c","x":2465,"y":17.6},{"s":"c","x":2665,"y":15.9},{"s":"c","x":2860,"y":12.9},{"s":"c","x":3025,"y":10.9},{"s":"c","x":3155,"y":13.6},{"s":"c","x":3285,"y":17.3},{"s":"c","x":3415,"y":18.0},{"s":"c","x":3580,"y":15.3},{"s":"c","x":3710,"y":14.3},{"s":"c","x":4040,"y":14.3},{"s":"c","x":4300,"y":14.3},{"s":"c","x":4430,"y":15.3},{"s":"c","x":4560,"y":15.9},{"s":"c","x":4725,"y":12.2},{"s":"c","x":4890,"y":8.2},{"s":"c","x":5020,"y":6.9},{"s":"c","x":5185,"y":9.2},{"s":"c","x":5345,"y":11.9},{"s":"c","x":5545,"y":12.9},{"s":"c","x":5665,"y":14.9},{"s":"c","x":5770,"y":15.9},{"s":"c","x":5905,"y":12.2},{"s":"c","x":6035,"y":6.9},{"s":"c","x":6200,"y":1.8},{"s":"c","x":6360,"y":6.9},{"s":"c","x":6525,"y":16.3},{"s":"c","x":6670,"y":19.3},{"s":"c","x":6820,"y":15.9},{"s":"c","x":6985,"y":9.6},{"s":"c","x":7145,"y":5.5},{"s":"c","x":7310,"y":3.8},{"s":"c","x":7475,"y":8.9},{"s":"c","x":7640,"y":14.3},{"s":"c","x":7800,"y":15.6},{"s":"c","x":7965,"y":14.3},{"s":"c","x":8130,"y":15.3},{"s":"c","x":8295,"y":15.9},{"s":"c","x":8455,"y":11.9},{"s":"c","x":8655,"y":6.9},{"s":"c","x":8815,"y":8.2},{"s":"c","x":8980,"y":14.6},{"s":"c","x":9145,"y":16.8},{"s":"c","x":9305,"y":14.9},{"s":"c","x":9470,"y":8.9},{"s":"c","x":9635,"y":2.8},{"s":"c","x":9765,"y":2.8},{"s":"c","x":9980,"y":5.5},
{"s":"r","x":-10000,"y":38},{"s":"r","x":-9875,"y":10},{"s":"r","x":-9750,"y":34},{"s":"r","x":-9625,"y":5},{"s":"r","x":-9500,"y":43},{"s":"r","x":-9375,"y":15},{"s":"r","x":-9250,"y":25},{"s":"r","x":-9125,"y":5},{"s":"r","x":-9000,"y":20},{"s":"r","x":-8875,"y":60},
{"s":"r","x":-8750,"y":22},{"s":"r","x":-8625,"y":43},{"s":"r","x":-8500,"y":8},{"s":"r","x":-8375,"y":25},{"s":"r","x":-8250,"y":5},{"s":"r","x":-8125,"y":20},{"s":"r","x":-8000,"y":35},{"s":"r","x":-7875,"y":46},{"s":"r","x":-7750,"y":12},{"s":"r","x":-7625,"y":38},
{"s":"r","x":-7500,"y":46},{"s":"r","x":-7375,"y":60},{"s":"r","x":-7250,"y":15},{"s":"r","x":-7125,"y":38},{"s":"r","x":-7000,"y":8},{"s":"r","x":-6875,"y":20},{"s":"r","x":-6750,"y":5},{"s":"r","x":-6625,"y":25},{"s":"r","x":-6500,"y":18},{"s":"r","x":-6375,"y":40},
{"s":"r","x":-6250,"y":41},{"s":"r","x":-6125,"y":10},{"s":"r","x":-6000,"y":32},{"s":"r","x":-5875,"y":65},{"s":"r","x":-5750,"y":12},{"s":"r","x":-5625,"y":25},{"s":"r","x":-5500,"y":5},{"s":"r","x":-5375,"y":20},{"s":"r","x":-5250,"y":8},{"s":"r","x":-5125,"y":30},
{"s":"r","x":-5000,"y":15},{"s":"r","x":-4875,"y":10},{"s":"r","x":-4750,"y":25},{"s":"r","x":-4625,"y":5},{"s":"r","x":-4500,"y":30},{"s":"r","x":-4375,"y":15},{"s":"r","x":-4250,"y":52},{"s":"r","x":-4125,"y":20},{"s":"r","x":-4000,"y":40},{"s":"r","x":-3875,"y":10},
{"s":"r","x":-3750,"y":25},{"s":"r","x":-3625,"y":5},{"s":"r","x":-3500,"y":33},{"s":"r","x":-3375,"y":12},{"s":"r","x":-3250,"y":35},{"s":"r","x":-3125,"y":8},{"s":"r","x":-3000,"y":30},{"s":"r","x":-2875,"y":15},{"s":"r","x":-2750,"y":28},{"s":"r","x":-2625,"y":5},
{"s":"r","x":-2500,"y":35},{"s":"r","x":-2375,"y":20},{"s":"r","x":-2250,"y":40},{"s":"r","x":-2125,"y":10},{"s":"r","x":-2000,"y":35},{"s":"r","x":-1875,"y":15},{"s":"r","x":-1750,"y":28},{"s":"r","x":-1625,"y":5},{"s":"r","x":-1500,"y":52},{"s":"r","x":-1375,"y":20},
{"s":"r","x":-1250,"y":40},{"s":"r","x":-1125,"y":10},{"s":"r","x":-1000,"y":45},{"s":"r","x":-875,"y":18},{"s":"r","x":-750,"y":60},{"s":"r","x":-625,"y":30},{"s":"r","x":-500,"y":40},{"s":"r","x":-375,"y":15},{"s":"r","x":-250,"y":60},{"s":"r","x":-125,"y":25},
{"s":"r","x":0,"y":35},{"s":"r","x":125,"y":10},{"s":"r","x":250,"y":30},{"s":"r","x":375,"y":5},{"s":"r","x":500,"y":22},{"s":"r","x":625,"y":10},{"s":"r","x":750,"y":35},{"s":"r","x":875,"y":18},{"s":"r","x":1000,"y":25},{"s":"r","x":1125,"y":60},
{"s":"r","x":1250,"y":20},{"s":"r","x":1375,"y":30},{"s":"r","x":1500,"y":8},{"s":"r","x":1625,"y":20},{"s":"r","x":1750,"y":5},{"s":"r","x":1875,"y":28},{"s":"r","x":2000,"y":18},{"s":"r","x":2125,"y":10},{"s":"r","x":2250,"y":54},{"s":"r","x":2375,"y":15},
{"s":"r","x":2500,"y":30},{"s":"r","x":2625,"y":8},{"s":"r","x":2750,"y":25},{"s":"r","x":2875,"y":20},{"s":"r","x":3000,"y":12},{"s":"r","x":3125,"y":28},{"s":"r","x":3250,"y":5},{"s":"r","x":3375,"y":37},{"s":"r","x":3500,"y":12},{"s":"r","x":3625,"y":25},
{"s":"r","x":3750,"y":8},{"s":"r","x":3875,"y":47},{"s":"r","x":4000,"y":15},{"s":"r","x":4125,"y":30},{"s":"r","x":4250,"y":42},{"s":"r","x":4375,"y":10},{"s":"r","x":4500,"y":20},{"s":"r","x":4625,"y":5},{"s":"r","x":4750,"y":33},{"s":"r","x":4875,"y":15},
{"s":"r","x":5000,"y":8},{"s":"r","x":5125,"y":30},{"s":"r","x":5250,"y":12},{"s":"r","x":5375,"y":28},{"s":"r","x":5500,"y":5},{"s":"r","x":5625,"y":47},{"s":"r","x":5750,"y":15},{"s":"r","x":5875,"y":41},{"s":"r","x":6000,"y":8},{"s":"r","x":6125,"y":20},
{"s":"r","x":6250,"y":25},{"s":"r","x":6375,"y":10},{"s":"r","x":6500,"y":45},{"s":"r","x":6625,"y":20},{"s":"r","x":6750,"y":32},{"s":"r","x":6875,"y":8},{"s":"r","x":7000,"y":25},{"s":"r","x":7125,"y":12},{"s":"r","x":7250,"y":20},{"s":"r","x":7375,"y":5},
{"s":"r","x":7500,"y":28},{"s":"r","x":7625,"y":15},{"s":"r","x":7750,"y":22},{"s":"r","x":7875,"y":64},{"s":"r","x":8000,"y":10},{"s":"r","x":8125,"y":25},{"s":"r","x":8250,"y":15},{"s":"r","x":8375,"y":20},{"s":"r","x":8500,"y":5},{"s":"r","x":8625,"y":28},
{"s":"r","x":8750,"y":10},{"s":"r","x":8875,"y":34},{"s":"r","x":9000,"y":15},{"s":"r","x":9125,"y":20},{"s":"r","x":9250,"y":33},{"s":"r","x":9375,"y":12},{"s":"r","x":9500,"y":25},{"s":"r","x":9625,"y":8},{"s":"r","x":9750,"y":18},{"s":"r","x":9875,"y":10},{"s":"r","x":10000,"y":14}
],
"p3":[
{"s":"a","x":-10000,"y":38.7},{"s":"a","x":-9835,"y":39.3},{"s":"a","x":-9660,"y":37.7},{"s":"a","x":-9495,"y":34.6},{"s":"a","x":-9300,"y":33.6},{"s":"a","x":-9105,"y":35.0},{"s":"a","x":-8875,"y":36.0},{"s":"a","x":-8680,"y":35.0},{"s":"a","x":-8480,"y":32.6},{"s":"a","x":-8285,"y":30.3},{"s":"a","x":-8090,"y":28.9},{"s":"a","x":-7860,"y":28.8},{"s":"a","x":-7630,"y":29.3},{"s":"a","x":-7435,"y":30.6},{"s":"a","x":-7205,"y":31.9},{"s":"a","x":-7010,"y":31.3},{"s":"a","x":-6815,"y":29.9},{"s":"a","x":-6615,"y":28.6},{"s":"a","x":-6485,"y":28.2},{"s":"a","x":-6290,"y":30.9},{"s":"a","x":-6125,"y":34.0},{"s":"a","x":-5960,"y":35.0},{"s":"a","x":-5765,"y":33.3},{"s":"a","x":-5570,"y":31.6},{"s":"a","x":-5375,"y":31.3},{"s":"a","x":-5175,"y":30.9},{"s":"a","x":-4980,"y":29.6},{"s":"a","x":-4785,"y":29.3},{"s":"a","x":-4590,"y":30.3},{"s":"a","x":-4390,"y":32.3},{"s":"a","x":-4195,"y":33.3},{"s":"a","x":-3995,"y":34.6},{"s":"a","x":-3800,"y":36.7},{"s":"a","x":-3605,"y":37.7},{"s":"a","x":-3410,"y":38.3},{"s":"a","x":-3245,"y":40.7},{"s":"a","x":-3080,"y":43.7},{"s":"a","x":-2950,"y":44.7},{"s":"a","x":-2820,"y":43.0},{"s":"a","x":-2690,"y":38.7},{"s":"a","x":-2560,"y":34.3},{"s":"a","x":-2395,"y":32.3},{"s":"a","x":-2200,"y":30.9},{"s":"a","x":-2005,"y":29.6},{"s":"a","x":-1810,"y":27.9},{"s":"a","x":-1640,"y":26.9},{"s":"a","x":-1480,"y":28.6},{"s":"a","x":-1350,"y":32.6},{"s":"a","x":-1220,"y":38.3},{"s":"a","x":-1090,"y":45.1},{"s":"a","x":-955,"y":50.4},{"s":"a","x":-825,"y":53.1},{"s":"a","x":-665,"y":54.3},{"s":"a","x":-500,"y":55.8},{"s":"a","x":-370,"y":57.8},{"s":"a","x":-240,"y":63.2},{"s":"a","x":-140,"y":66.6},{"s":"a","x":-40,"y":67.4},{"s":"a","x":45,"y":65.9},{"s":"a","x":175,"y":59.2},{"s":"a","x":310,"y":49.8},{"s":"a","x":440,"y":43.7},{"s":"a","x":570,"y":41.4},{"s":"a","x":765,"y":40.0},{"s":"a","x":930,"y":37.0},{"s":"a","x":1095,"y":33.6},{"s":"a","x":1255,"y":30.9},{"s":"a","x":1455,"y":30.4},{"s":"a","x":1650,"y":29.9},{"s":"a","x":1845,"y":28.9},{"s":"a","x":2075,"y":28.2},{"s":"a","x":2270,"y":29.3},{"s":"a","x":2465,"y":31.6},{"s":"a","x":2665,"y":33.0},{"s":"a","x":2860,"y":33.6},{"s":"a","x":3055,"y":32.3},{"s":"a","x":3255,"y":30.6},{"s":"a","x":3450,"y":30.9},{"s":"a","x":3680,"y":32.3},{"s":"a","x":3875,"y":31.3},{"s":"a","x":4105,"y":29.9},{"s":"a","x":4365,"y":29.9},{"s":"a","x":4595,"y":29.3},{"s":"a","x":4825,"y":28.2},{"s":"a","x":5020,"y":27.6},{"s":"a","x":5250,"y":28.6},{"s":"a","x":5480,"y":29.3},{"s":"a","x":5705,"y":29.6},{"s":"a","x":5935,"y":30.9},{"s":"a","x":6165,"y":32.3},{"s":"a","x":6395,"y":32.6},{"s":"a","x":6655,"y":32.6},{"s":"a","x":6855,"y":30.9},{"s":"a","x":7050,"y":28.9},{"s":"a","x":7245,"y":28.2},{"s":"a","x":7440,"y":29.6},{"s":"a","x":7670,"y":30.9},{"s":"a","x":7865,"y":30.9},{"s":"a","x":8065,"y":28.6},{"s":"a","x":8260,"y":26.6},{"s":"a","x":8455,"y":25.6},{"s":"a","x":8655,"y":25.2},{"s":"a","x":8850,"y":26.2},{"s":"a","x":9045,"y":28.2},{"s":"a","x":9275,"y":29.6},{"s":"a","x":9470,"y":28.6},{"s":"a","x":9700,"y":27.2},{"s":"a","x":10000,"y":28.6},
{"s":"b","x":-10000,"y":19.5},{"s":"b","x":-9890,"y":31.6},{"s":"b","x":-9745,"y":36.3},{"s":"b","x":-9625,"y":30.9},{"s":"b","x":-9495,"y":18.8},{"s":"b","x":-9320,"y":12.8},{"s":"b","x":-9200,"y":18.2},{"s":"b","x":-9040,"y":29.6},{"s":"b","x":-8905,"y":35.6},{"s":"b","x":-8810,"y":31.6},{"s":"b","x":-8680,"y":18.2},{"s":"b","x":-8545,"y":8.1},{"s":"b","x":-8460,"y":5.4},{"s":"b","x":-8350,"y":11.4},{"s":"b","x":-8220,"y":24.9},{"s":"b","x":-8090,"y":36.3},{"s":"b","x":-7960,"y":41.0},{"s":"b","x":-7795,"y":44.4},{"s":"b","x":-7630,"y":52.5},{"s":"b","x":-7480,"y":57.5},{"s":"b","x":-7370,"y":55.1},{"s":"b","x":-7240,"y":44.4},{"s":"b","x":-7075,"y":30.9},{"s":"b","x":-6910,"y":20.2},{"s":"b","x":-6745,"y":16.1},{"s":"b","x":-6615,"y":22.9},{"s":"b","x":-6455,"y":34.3},{"s":"b","x":-6290,"y":36.7},{"s":"b","x":-6125,"y":34.3},{"s":"b","x":-5960,"y":33.6},{"s":"b","x":-5830,"y":30.9},{"s":"b","x":-5700,"y":23.5},{"s":"b","x":-5535,"y":17.1},{"s":"b","x":-5375,"y":15.8},{"s":"b","x":-5210,"y":10.8},{"s":"b","x":-5015,"y":3.7},{"s":"b","x":-4850,"y":2.0},{"s":"b","x":-4685,"y":1.0},{"s":"b","x":-4555,"y":4.0},{"s":"b","x":-4425,"y":16.1},{"s":"b","x":-4290,"y":31.6},{"s":"b","x":-4195,"y":36.7},{"s":"b","x":-4095,"y":31.6},{"s":"b","x":-3965,"y":13.4},{"s":"b","x":-3855,"y":0},{"s":"b","x":-3680,"y":-6},{"s":"b","x":-3505,"y":0},{"s":"b","x":-3375,"y":11.4},{"s":"b","x":-3210,"y":23.2},{"s":"b","x":-3050,"y":23.9},{"s":"b","x":-2885,"y":24.2},{"s":"b","x":-2720,"y":21.5},{"s":"b","x":-2560,"y":19.5},{"s":"b","x":-2395,"y":23.2},{"s":"b","x":-2230,"y":28.9},{"s":"b","x":-2085,"y":23.2},{"s":"b","x":-1915,"y":16.5},{"s":"b","x":-1740,"y":17.8},{"s":"b","x":-1545,"y":18.8},{"s":"b","x":-1415,"y":22.2},{"s":"b","x":-1285,"y":31.6},{"s":"b","x":-1155,"y":43.0},{"s":"b","x":-1020,"y":53.8},{"s":"b","x":-860,"y":58.5},{"s":"b","x":-730,"y":57.8},{"s":"b","x":-595,"y":57.5},{"s":"b","x":-475,"y":59.9},{"s":"b","x":-335,"y":63.6},{"s":"b","x":-205,"y":61.2},{"s":"b","x":-150,"y":55.1},{"s":"b","x":-60,"y":46.5},{"s":"b","x":80,"y":30.3},{"s":"b","x":210,"y":21.5},{"s":"b","x":360,"y":17.8},{"s":"b","x":505,"y":21.5},{"s":"b","x":700,"y":31.6},{"s":"b","x":865,"y":39.7},{"s":"b","x":1030,"y":48.4},{"s":"b","x":1160,"y":52.1},{"s":"b","x":1290,"y":49.1},{"s":"b","x":1455,"y":35.6},{"s":"b","x":1615,"y":19.5},{"s":"b","x":1760,"y":11.8},{"s":"b","x":1910,"y":14.8},{"s":"b","x":2075,"y":26.2},{"s":"b","x":2240,"y":35.0},{"s":"b","x":2370,"y":35.6},{"s":"b","x":2535,"y":34.3},{"s":"b","x":2695,"y":31.6},{"s":"b","x":2860,"y":27.6},{"s":"b","x":3055,"y":23.5},{"s":"b","x":3185,"y":30.3},{"s":"b","x":3385,"y":36.0},{"s":"b","x":3480,"y":34.3},{"s":"b","x":3615,"y":29.6},{"s":"b","x":3775,"y":29.6},{"s":"b","x":4040,"y":29.3},{"s":"b","x":4300,"y":29.6},{"s":"b","x":4465,"y":31.9},{"s":"b","x":4595,"y":31.9},{"s":"b","x":4725,"y":26.2},{"s":"b","x":4890,"y":18.8},{"s":"b","x":5020,"y":16.5},{"s":"b","x":5185,"y":20.2},{"s":"b","x":5345,"y":25.2},{"s":"b","x":5510,"y":26.9},{"s":"b","x":5640,"y":30.3},{"s":"b","x":5770,"y":32.3},{"s":"b","x":5905,"y":26.9},{"s":"b","x":6065,"y":13.4},{"s":"b","x":6200,"y":8.1},{"s":"b","x":6330,"y":13.4},{"s":"b","x":6460,"y":28.2},{"s":"b","x":6590,"y":36.7},{"s":"b","x":6670,"y":38.0},{"s":"b","x":6820,"y":35.0},{"s":"b","x":6985,"y":26.2},{"s":"b","x":7145,"y":16.8},{"s":"b","x":7310,"y":11.4},{"s":"b","x":7475,"y":16.1},{"s":"b","x":7640,"y":26.9},{"s":"b","x":7800,"y":31.3},{"s":"b","x":7965,"y":25.9},{"s":"b","x":8130,"y":28.2},{"s":"b","x":8295,"y":32.6},{"s":"b","x":8455,"y":26.2},{"s":"b","x":8655,"y":16.5},{"s":"b","x":8815,"y":21.5},{"s":"b","x":8980,"y":30.9},{"s":"b","x":9175,"y":33.5},{"s":"b","x":9370,"y":29.6},{"s":"b","x":9570,"y":18.2},{"s":"b","x":9765,"y":9.8},{"s":"b","x":9980,"y":13.4},
{"s":"c","x":-10000,"y":26.2},{"s":"c","x":-9870,"y":21.5},{"s":"c","x":-9720,"y":19.5},{"s":"c","x":-9575,"y":22.2},{"s":"c","x":-9460,"y":23.5},{"s":"c","x":-9300,"y":18.2},{"s":"c","x":-9115,"y":14.5},{"s":"c","x":-8975,"y":18.2},{"s":"c","x":-8775,"y":23.5},{"s":"c","x":-8645,"y":31.6},{"s":"c","x":-8515,"y":40.3},{"s":"c","x":-8385,"y":44.7},{"s":"c","x":-8250,"y":40.0},{"s":"c","x":-8090,"y":35.0},{"s":"c","x":-7960,"y":37.7},{"s":"c","x":-7810,"y":39.7},{"s":"c","x":-7665,"y":35.0},{"s":"c","x":-7500,"y":29.6},{"s":"c","x":-7350,"y":28.2},{"s":"c","x":-7205,"y":32.3},{"s":"c","x":-7010,"y":40.3},{"s":"c","x":-6800,"y":45.1},{"s":"c","x":-6650,"y":41.0},{"s":"c","x":-6485,"y":36.0},{"s":"c","x":-6320,"y":39.0},{"s":"c","x":-6205,"y":41.4},{"s":"c","x":-6095,"y":36.3},{"s":"c","x":-5930,"y":33.3},{"s":"c","x":-5765,"y":33.0},{"s":"c","x":-5570,"y":36.0},{"s":"c","x":-5405,"y":35.6},{"s":"c","x":-5245,"y":36.3},{"s":"c","x":-5080,"y":31.6},{"s":"c","x":-4950,"y":29.3},{"s":"c","x":-4785,"y":35.0},{"s":"c","x":-4655,"y":39.0},{"s":"c","x":-4520,"y":35.0},{"s":"c","x":-4360,"y":21.5},{"s":"c","x":-4195,"y":14.8},{"s":"c","x":-4065,"y":18.2},{"s":"c","x":-3900,"y":31.6},{"s":"c","x":-3750,"y":38.7},{"s":"c","x":-3605,"y":35.6},{"s":"c","x":-3475,"y":28.9},{"s":"c","x":-3310,"y":21.9},{"s":"c","x":-3145,"y":23.2},{"s":"c","x":-2985,"y":20.8},{"s":"c","x":-2855,"y":25.6},{"s":"c","x":-2720,"y":28.9},{"s":"c","x":-2590,"y":26.2},{"s":"c","x":-2460,"y":23.9},{"s":"c","x":-2295,"y":27.6},{"s":"c","x":-2135,"y":33.0},{"s":"c","x":-2005,"y":31.6},{"s":"c","x":-1840,"y":30.3},{"s":"c","x":-1675,"y":32.6},{"s":"c","x":-1480,"y":28.2},{"s":"c","x":-1350,"y":32.3},{"s":"c","x":-1220,"y":39.7},{"s":"c","x":-1090,"y":45.7},{"s":"c","x":-990,"y":47.7},{"s":"c","x":-860,"y":47.4},{"s":"c","x":-730,"y":50.4},{"s":"c","x":-595,"y":55.1},{"s":"c","x":-500,"y":57.2},{"s":"c","x":-370,"y":53.1},{"s":"c","x":-240,"y":47.7},{"s":"c","x":-100,"y":47.2},{"s":"c","x":15,"y":46.1},{"s":"c","x":210,"y":42.4},{"s":"c","x":440,"y":42.7},{"s":"c","x":635,"y":39.7},{"s":"c","x":830,"y":34.3},{"s":"c","x":995,"y":28.2},{"s":"c","x":1105,"y":26.6},{"s":"c","x":1255,"y":35.0},{"s":"c","x":1420,"y":41.7},{"s":"c","x":1585,"y":31.6},{"s":"c","x":1745,"y":27.2},{"s":"c","x":1910,"y":36.3},{"s":"c","x":2075,"y":45.1},{"s":"c","x":2240,"y":47.4},{"s":"c","x":2370,"y":42.4},{"s":"c","x":2535,"y":36.0},{"s":"c","x":2665,"y":38.7},{"s":"c","x":2830,"y":41.7},{"s":"c","x":2990,"y":35.6},{"s":"c","x":3155,"y":22.9},{"s":"c","x":3285,"y":14.5},{"s":"c","x":3415,"y":18.8},{"s":"c","x":3545,"y":35.0},{"s":"c","x":3710,"y":43.0},{"s":"c","x":3840,"y":44.0},{"s":"c","x":3940,"y":43.0},{"s":"c","x":4105,"y":43.7},{"s":"c","x":4235,"y":37.7},{"s":"c","x":4365,"y":26.9},{"s":"c","x":4495,"y":20.2},{"s":"c","x":4625,"y":26.9},{"s":"c","x":4790,"y":39.3},{"s":"c","x":4955,"y":45.4},{"s":"c","x":5120,"y":46.4},{"s":"c","x":5280,"y":47.4},{"s":"c","x":5410,"y":43.7},{"s":"c","x":5575,"y":32.3},{"s":"c","x":5740,"y":25.6},{"s":"c","x":5935,"y":22.5},{"s":"c","x":6135,"y":27.6},{"s":"c","x":6330,"y":33.6},{"s":"c","x":6525,"y":36.7},{"s":"c","x":6690,"y":29.6},{"s":"c","x":6820,"y":18.2},{"s":"c","x":6920,"y":13.1},{"s":"c","x":7080,"y":22.2},{"s":"c","x":7245,"y":30.3},{"s":"c","x":7410,"y":32.6},{"s":"c","x":7575,"y":29.6},{"s":"c","x":7705,"y":26.6},{"s":"c","x":7835,"y":25.2},{"s":"c","x":8000,"y":29.3},{"s":"c","x":8130,"y":30.3},{"s":"c","x":8295,"y":29.6},{"s":"c","x":8455,"y":28.2},{"s":"c","x":8620,"y":24.2},{"s":"c","x":8785,"y":20.2},{"s":"c","x":8945,"y":24.2},{"s":"c","x":9090,"y":27.6},{"s":"c","x":9240,"y":22.9},{"s":"c","x":9405,"y":18.8},{"s":"c","x":9570,"y":15.8},{"s":"c","x":9700,"y":10.8},{"s":"c","x":9830,"y":5.4},{"s":"c","x":9980,"y":7.1},
{"s":"ra","x":-10000,"y":45},{"s":"ra","x":-9875,"y":30},{"s":"ra","x":-9750,"y":40},{"s":"ra","x":-9625,"y":48},{"s":"ra","x":-9500,"y":32},{"s":"ra","x":-9375,"y":38},{"s":"ra","x":-9250,"y":28},{"s":"ra","x":-9125,"y":44},{"s":"ra","x":-9000,"y":36},{"s":"ra","x":-8875,"y":25},
{"s":"ra","x":-8750,"y":40},{"s":"ra","x":-8625,"y":30},{"s":"ra","x":-8500,"y":42},{"s":"ra","x":-8375,"y":22},{"s":"ra","x":-8250,"y":35},{"s":"ra","x":-8125,"y":28},{"s":"ra","x":-8000,"y":20},{"s":"ra","x":-7875,"y":38},{"s":"ra","x":-7750,"y":25},{"s":"ra","x":-7625,"y":30},
{"s":"ra","x":-7500,"y":22},{"s":"ra","x":-7375,"y":32},{"s":"ra","x":-7250,"y":26},{"s":"ra","x":-7125,"y":35},{"s":"ra","x":-7000,"y":22},{"s":"ra","x":-6875,"y":30},{"s":"ra","x":-6750,"y":24},{"s":"ra","x":-6625,"y":36},{"s":"ra","x":-6500,"y":28},{"s":"ra","x":-6375,"y":24},
{"s":"ra","x":-6250,"y":38},{"s":"ra","x":-6125,"y":30},{"s":"ra","x":-6000,"y":26},{"s":"ra","x":-5875,"y":42},{"s":"ra","x":-5750,"y":30},{"s":"ra","x":-5625,"y":22},{"s":"ra","x":-5500,"y":34},{"s":"ra","x":-5375,"y":28},{"s":"ra","x":-5250,"y":20},{"s":"ra","x":-5125,"y":32},
{"s":"ra","x":-5000,"y":25},{"s":"ra","x":-4875,"y":30},{"s":"ra","x":-4750,"y":22},{"s":"ra","x":-4625,"y":33},{"s":"ra","x":-4500,"y":28},{"s":"ra","x":-4375,"y":24},{"s":"ra","x":-4250,"y":38},{"s":"ra","x":-4125,"y":30},{"s":"ra","x":-4000,"y":36},{"s":"ra","x":-3875,"y":28},
{"s":"ra","x":-3750,"y":40},{"s":"ra","x":-3625,"y":32},{"s":"ra","x":-3500,"y":38},{"s":"ra","x":-3375,"y":34},{"s":"ra","x":-3250,"y":42},{"s":"ra","x":-3125,"y":36},{"s":"ra","x":-3000,"y":48},{"s":"ra","x":-2875,"y":62},{"s":"ra","x":-2750,"y":40},{"s":"ra","x":-2625,"y":36},
{"s":"ra","x":-2500,"y":32},{"s":"ra","x":-2375,"y":28},{"s":"ra","x":-2250,"y":35},{"s":"ra","x":-2125,"y":24},{"s":"ra","x":-2000,"y":30},{"s":"ra","x":-1875,"y":22},{"s":"ra","x":-1750,"y":28},{"s":"ra","x":-1625,"y":18},{"s":"ra","x":-1500,"y":26},{"s":"ra","x":-1375,"y":35},
{"s":"ra","x":-1250,"y":45},{"s":"ra","x":-1125,"y":58},{"s":"ra","x":-1000,"y":52},{"s":"ra","x":-875,"y":60},{"s":"ra","x":-750,"y":48},{"s":"ra","x":-625,"y":56},{"s":"ra","x":-500,"y":44},{"s":"ra","x":-375,"y":60},{"s":"ra","x":-250,"y":70},{"s":"ra","x":-125,"y":90},
{"s":"ra","x":0,"y":110},{"s":"ra","x":125,"y":105},{"s":"ra","x":250,"y":60},{"s":"ra","x":375,"y":48},{"s":"ra","x":500,"y":38},{"s":"ra","x":625,"y":50},{"s":"ra","x":750,"y":32},{"s":"ra","x":875,"y":42},{"s":"ra","x":1000,"y":35},{"s":"ra","x":1125,"y":28},
{"s":"ra","x":1250,"y":38},{"s":"ra","x":1375,"y":25},{"s":"ra","x":1500,"y":32},{"s":"ra","x":1625,"y":28},{"s":"ra","x":1750,"y":35},{"s":"ra","x":1875,"y":22},{"s":"ra","x":2000,"y":30},{"s":"ra","x":2125,"y":36},{"s":"ra","x":2250,"y":28},{"s":"ra","x":2375,"y":24},
{"s":"ra","x":2500,"y":35},{"s":"ra","x":2625,"y":30},{"s":"ra","x":2750,"y":38},{"s":"ra","x":2875,"y":26},{"s":"ra","x":3000,"y":34},{"s":"ra","x":3125,"y":30},{"s":"ra","x":3250,"y":42},{"s":"ra","x":3375,"y":24},{"s":"ra","x":3500,"y":38},{"s":"ra","x":3625,"y":42},
{"s":"ra","x":3750,"y":30},{"s":"ra","x":3875,"y":36},{"s":"ra","x":4000,"y":26},{"s":"ra","x":4125,"y":32},{"s":"ra","x":4250,"y":24},{"s":"ra","x":4375,"y":30},{"s":"ra","x":4500,"y":38},{"s":"ra","x":4625,"y":26},{"s":"ra","x":4750,"y":30},{"s":"ra","x":4875,"y":22},
{"s":"ra","x":5000,"y":28},{"s":"ra","x":5125,"y":24},{"s":"ra","x":5250,"y":32},{"s":"ra","x":5375,"y":26},{"s":"ra","x":5500,"y":30},{"s":"ra","x":5625,"y":36},{"s":"ra","x":5750,"y":28},{"s":"ra","x":5875,"y":32},{"s":"ra","x":6000,"y":42},{"s":"ra","x":6125,"y":30},
{"s":"ra","x":6250,"y":34},{"s":"ra","x":6375,"y":28},{"s":"ra","x":6500,"y":42},{"s":"ra","x":6625,"y":36},{"s":"ra","x":6750,"y":30},{"s":"ra","x":6875,"y":26},{"s":"ra","x":7000,"y":32},{"s":"ra","x":7125,"y":24},{"s":"ra","x":7250,"y":30},{"s":"ra","x":7375,"y":34},
{"s":"ra","x":7500,"y":28},{"s":"ra","x":7625,"y":24},{"s":"ra","x":7750,"y":36},{"s":"ra","x":7875,"y":28},{"s":"ra","x":8000,"y":32},{"s":"ra","x":8125,"y":26},{"s":"ra","x":8250,"y":22},{"s":"ra","x":8375,"y":30},{"s":"ra","x":8500,"y":20},{"s":"ra","x":8625,"y":28},
{"s":"ra","x":8750,"y":34},{"s":"ra","x":8875,"y":22},{"s":"ra","x":9000,"y":30},{"s":"ra","x":9125,"y":36},{"s":"ra","x":9250,"y":43},{"s":"ra","x":9375,"y":28},{"s":"ra","x":9500,"y":24},{"s":"ra","x":9625,"y":32},{"s":"ra","x":9750,"y":26},{"s":"ra","x":9875,"y":34},{"s":"ra","x":10000,"y":28},
{"s":"rb","x":-10000,"y":70},{"s":"rb","x":-9875,"y":20},{"s":"rb","x":-9750,"y":45},{"s":"rb","x":-9625,"y":60},{"s":"rb","x":-9500,"y":10},{"s":"rb","x":-9375,"y":32},{"s":"rb","x":-9250,"y":5},{"s":"rb","x":-9125,"y":55},{"s":"rb","x":-9000,"y":105},{"s":"rb","x":-8875,"y":15},
{"s":"rb","x":-8750,"y":75},{"s":"rb","x":-8625,"y":0},{"s":"rb","x":-8500,"y":30},{"s":"rb","x":-8375,"y":10},{"s":"rb","x":-8250,"y":50},{"s":"rb","x":-8125,"y":0},{"s":"rb","x":-8000,"y":60},{"s":"rb","x":-7875,"y":15},{"s":"rb","x":-7750,"y":40},{"s":"rb","x":-7625,"y":5},
{"s":"rb","x":-7500,"y":85},{"s":"rb","x":-7375,"y":110},{"s":"rb","x":-7250,"y":20},{"s":"rb","x":-7125,"y":68},{"s":"rb","x":-7000,"y":0},{"s":"rb","x":-6875,"y":45},{"s":"rb","x":-6750,"y":10},{"s":"rb","x":-6625,"y":58},{"s":"rb","x":-6500,"y":5},{"s":"rb","x":-6375,"y":40},
{"s":"rb","x":-6250,"y":73},{"s":"rb","x":-6125,"y":10},{"s":"rb","x":-6000,"y":60},{"s":"rb","x":-5875,"y":105},{"s":"rb","x":-5750,"y":15},{"s":"rb","x":-5625,"y":45},{"s":"rb","x":-5500,"y":0},{"s":"rb","x":-5375,"y":30},{"s":"rb","x":-5250,"y":52},{"s":"rb","x":-5125,"y":5},
{"s":"rb","x":-5000,"y":35},{"s":"rb","x":-4875,"y":0},{"s":"rb","x":-4750,"y":40},{"s":"rb","x":-4625,"y":10},{"s":"rb","x":-4500,"y":55},{"s":"rb","x":-4375,"y":20},{"s":"rb","x":-4250,"y":93},{"s":"rb","x":-4125,"y":80},{"s":"rb","x":-4000,"y":15},{"s":"rb","x":-3875,"y":40},
{"s":"rb","x":-3750,"y":0},{"s":"rb","x":-3625,"y":30},{"s":"rb","x":-3500,"y":55},{"s":"rb","x":-3375,"y":10},{"s":"rb","x":-3250,"y":65},{"s":"rb","x":-3125,"y":20},{"s":"rb","x":-3000,"y":45},{"s":"rb","x":-2875,"y":5},{"s":"rb","x":-2750,"y":50},{"s":"rb","x":-2625,"y":15},
{"s":"rb","x":-2500,"y":35},{"s":"rb","x":-2375,"y":62},{"s":"rb","x":-2250,"y":95},{"s":"rb","x":-2125,"y":20},{"s":"rb","x":-2000,"y":50},{"s":"rb","x":-1875,"y":10},{"s":"rb","x":-1750,"y":40},{"s":"rb","x":-1625,"y":94},{"s":"rb","x":-1500,"y":30},{"s":"rb","x":-1375,"y":55},
{"s":"rb","x":-1250,"y":15},{"s":"rb","x":-1125,"y":70},{"s":"rb","x":-1000,"y":40},{"s":"rb","x":-875,"y":110},{"s":"rb","x":-750,"y":55},{"s":"rb","x":-625,"y":80},{"s":"rb","x":-500,"y":110},{"s":"rb","x":-375,"y":45},{"s":"rb","x":-250,"y":85},{"s":"rb","x":-125,"y":30},
{"s":"rb","x":0,"y":78},{"s":"rb","x":125,"y":20},{"s":"rb","x":250,"y":55},{"s":"rb","x":375,"y":5},{"s":"rb","x":500,"y":65},{"s":"rb","x":625,"y":30},{"s":"rb","x":750,"y":0},{"s":"rb","x":875,"y":50},{"s":"rb","x":1000,"y":20},{"s":"rb","x":1125,"y":110},
{"s":"rb","x":1250,"y":40},{"s":"rb","x":1375,"y":64},{"s":"rb","x":1500,"y":10},{"s":"rb","x":1625,"y":45},{"s":"rb","x":1750,"y":0},{"s":"rb","x":1875,"y":35},{"s":"rb","x":2000,"y":15},{"s":"rb","x":2125,"y":94},{"s":"rb","x":2250,"y":30},{"s":"rb","x":2375,"y":10},
{"s":"rb","x":2500,"y":60},{"s":"rb","x":2625,"y":20},{"s":"rb","x":2750,"y":40},{"s":"rb","x":2875,"y":5},{"s":"rb","x":3000,"y":35},{"s":"rb","x":3125,"y":10},{"s":"rb","x":3250,"y":50},{"s":"rb","x":3375,"y":80},{"s":"rb","x":3500,"y":20},{"s":"rb","x":3625,"y":45},
{"s":"rb","x":3750,"y":5},{"s":"rb","x":3875,"y":72},{"s":"rb","x":4000,"y":30},{"s":"rb","x":4125,"y":15},{"s":"rb","x":4250,"y":76},{"s":"rb","x":4375,"y":20},{"s":"rb","x":4500,"y":50},{"s":"rb","x":4625,"y":0},{"s":"rb","x":4750,"y":35},{"s":"rb","x":4875,"y":10},
{"s":"rb","x":5000,"y":40},{"s":"rb","x":5125,"y":5},{"s":"rb","x":5250,"y":60},{"s":"rb","x":5375,"y":25},{"s":"rb","x":5500,"y":45},{"s":"rb","x":5625,"y":83},{"s":"rb","x":5750,"y":15},{"s":"rb","x":5875,"y":40},{"s":"rb","x":6000,"y":74},{"s":"rb","x":6125,"y":10},
{"s":"rb","x":6250,"y":35},{"s":"rb","x":6375,"y":0},{"s":"rb","x":6500,"y":50},{"s":"rb","x":6625,"y":80},{"s":"rb","x":6750,"y":25},{"s":"rb","x":6875,"y":45},{"s":"rb","x":7000,"y":10},{"s":"rb","x":7125,"y":55},{"s":"rb","x":7250,"y":20},{"s":"rb","x":7375,"y":40},
{"s":"rb","x":7500,"y":5},{"s":"rb","x":7625,"y":50},{"s":"rb","x":7750,"y":15},{"s":"rb","x":7875,"y":110},{"s":"rb","x":8000,"y":30},{"s":"rb","x":8125,"y":55},{"s":"rb","x":8250,"y":10},{"s":"rb","x":8375,"y":40},{"s":"rb","x":8500,"y":0},{"s":"rb","x":8625,"y":35},
{"s":"rb","x":8750,"y":60},{"s":"rb","x":8875,"y":15},{"s":"rb","x":9000,"y":45},{"s":"rb","x":9125,"y":5},{"s":"rb","x":9250,"y":40},{"s":"rb","x":9375,"y":63},{"s":"rb","x":9500,"y":20},{"s":"rb","x":9625,"y":50},{"s":"rb","x":9750,"y":10},{"s":"rb","x":9875,"y":35},{"s":"rb","x":10000,"y":20},
{"s":"rc","x":-10000,"y":40},{"s":"rc","x":-9875,"y":15},{"s":"rc","x":-9750,"y":35},{"s":"rc","x":-9625,"y":5},{"s":"rc","x":-9500,"y":45},{"s":"rc","x":-9375,"y":20},{"s":"rc","x":-9250,"y":10},{"s":"rc","x":-9125,"y":38},{"s":"rc","x":-9000,"y":15},{"s":"rc","x":-8875,"y":52},
{"s":"rc","x":-8750,"y":25},{"s":"rc","x":-8625,"y":40},{"s":"rc","x":-8500,"y":63},{"s":"rc","x":-8375,"y":30},{"s":"rc","x":-8250,"y":55},{"s":"rc","x":-8125,"y":10},{"s":"rc","x":-8000,"y":42},{"s":"rc","x":-7875,"y":20},{"s":"rc","x":-7750,"y":50},{"s":"rc","x":-7625,"y":75},
{"s":"rc","x":-7500,"y":30},{"s":"rc","x":-7375,"y":45},{"s":"rc","x":-7250,"y":10},{"s":"rc","x":-7125,"y":60},{"s":"rc","x":-7000,"y":25},{"s":"rc","x":-6875,"y":40},{"s":"rc","x":-6750,"y":15},{"s":"rc","x":-6625,"y":73},{"s":"rc","x":-6500,"y":30},{"s":"rc","x":-6375,"y":50},
{"s":"rc","x":-6250,"y":5},{"s":"rc","x":-6125,"y":45},{"s":"rc","x":-6000,"y":20},{"s":"rc","x":-5875,"y":55},{"s":"rc","x":-5750,"y":35},{"s":"rc","x":-5625,"y":62},{"s":"rc","x":-5500,"y":20},{"s":"rc","x":-5375,"y":40},{"s":"rc","x":-5250,"y":83},{"s":"rc","x":-5125,"y":67},
{"s":"rc","x":-5000,"y":15},{"s":"rc","x":-4875,"y":45},{"s":"rc","x":-4750,"y":5},{"s":"rc","x":-4625,"y":110},{"s":"rc","x":-4500,"y":30},{"s":"rc","x":-4375,"y":50},{"s":"rc","x":-4250,"y":10},{"s":"rc","x":-4125,"y":40},{"s":"rc","x":-4000,"y":25},{"s":"rc","x":-3875,"y":55},
{"s":"rc","x":-3750,"y":60},{"s":"rc","x":-3625,"y":20},{"s":"rc","x":-3500,"y":45},{"s":"rc","x":-3375,"y":10},{"s":"rc","x":-3250,"y":70},{"s":"rc","x":-3125,"y":30},{"s":"rc","x":-3000,"y":75},{"s":"rc","x":-2875,"y":40},{"s":"rc","x":-2750,"y":15},{"s":"rc","x":-2625,"y":50},
{"s":"rc","x":-2500,"y":25},{"s":"rc","x":-2375,"y":45},{"s":"rc","x":-2250,"y":10},{"s":"rc","x":-2125,"y":60},{"s":"rc","x":-2000,"y":30},{"s":"rc","x":-1875,"y":40},{"s":"rc","x":-1750,"y":88},{"s":"rc","x":-1625,"y":20},{"s":"rc","x":-1500,"y":55},{"s":"rc","x":-1375,"y":35},
{"s":"rc","x":-1250,"y":65},{"s":"rc","x":-1125,"y":30},{"s":"rc","x":-1000,"y":70},{"s":"rc","x":-875,"y":110},{"s":"rc","x":-750,"y":55},{"s":"rc","x":-625,"y":110},{"s":"rc","x":-500,"y":60},{"s":"rc","x":-375,"y":90},{"s":"rc","x":-250,"y":40},{"s":"rc","x":-125,"y":75},
{"s":"rc","x":0,"y":50},{"s":"rc","x":125,"y":80},{"s":"rc","x":250,"y":30},{"s":"rc","x":375,"y":60},{"s":"rc","x":500,"y":20},{"s":"rc","x":625,"y":50},{"s":"rc","x":750,"y":35},{"s":"rc","x":875,"y":15},{"s":"rc","x":1000,"y":45},{"s":"rc","x":1125,"y":30},
{"s":"rc","x":1250,"y":78},{"s":"rc","x":1375,"y":25},{"s":"rc","x":1500,"y":50},{"s":"rc","x":1625,"y":10},{"s":"rc","x":1750,"y":40},{"s":"rc","x":1875,"y":20},{"s":"rc","x":2000,"y":55},{"s":"rc","x":2125,"y":69},{"s":"rc","x":2250,"y":30},{"s":"rc","x":2375,"y":45},
{"s":"rc","x":2500,"y":15},{"s":"rc","x":2625,"y":60},{"s":"rc","x":2750,"y":35},{"s":"rc","x":2875,"y":50},{"s":"rc","x":3000,"y":20},{"s":"rc","x":3125,"y":40},{"s":"rc","x":3250,"y":10},{"s":"rc","x":3375,"y":45},{"s":"rc","x":3500,"y":30},{"s":"rc","x":3625,"y":90},
{"s":"rc","x":3750,"y":50},{"s":"rc","x":3875,"y":25},{"s":"rc","x":4000,"y":60},{"s":"rc","x":4125,"y":35},{"s":"rc","x":4250,"y":15},{"s":"rc","x":4375,"y":45},{"s":"rc","x":4500,"y":25},{"s":"rc","x":4625,"y":55},{"s":"rc","x":4750,"y":30},{"s":"rc","x":4875,"y":75},
{"s":"rc","x":5000,"y":40},{"s":"rc","x":5125,"y":60},{"s":"rc","x":5250,"y":70},{"s":"rc","x":5375,"y":35},{"s":"rc","x":5500,"y":55},{"s":"rc","x":5625,"y":20},{"s":"rc","x":5750,"y":45},{"s":"rc","x":5875,"y":30},{"s":"rc","x":6000,"y":60},{"s":"rc","x":6125,"y":15},
{"s":"rc","x":6250,"y":40},{"s":"rc","x":6375,"y":55},{"s":"rc","x":6500,"y":25},{"s":"rc","x":6625,"y":45},{"s":"rc","x":6750,"y":65},{"s":"rc","x":6875,"y":20},{"s":"rc","x":7000,"y":50},{"s":"rc","x":7125,"y":30},{"s":"rc","x":7250,"y":40},{"s":"rc","x":7375,"y":10},
{"s":"rc","x":7500,"y":55},{"s":"rc","x":7625,"y":35},{"s":"rc","x":7750,"y":50},{"s":"rc","x":7875,"y":20},{"s":"rc","x":8000,"y":45},{"s":"rc","x":8125,"y":25},{"s":"rc","x":8250,"y":60},{"s":"rc","x":8375,"y":30},{"s":"rc","x":8500,"y":15},{"s":"rc","x":8625,"y":40},
{"s":"rc","x":8750,"y":20},{"s":"rc","x":8875,"y":50},{"s":"rc","x":9000,"y":35},{"s":"rc","x":9125,"y":75},{"s":"rc","x":9250,"y":30},{"s":"rc","x":9375,"y":45},{"s":"rc","x":9500,"y":15},{"s":"rc","x":9625,"y":40},{"s":"rc","x":9750,"y":20},{"s":"rc","x":9875,"y":10},{"s":"rc","x":10000,"y":25}
]
},
"vconcat":[
{
 "width":1129,"height":550,
 "title":"[OIII]5007Å",
 "data":{"name":"p1"},
 "encoding":{
  "x":{"field":"x","type":"quantitative","scale":{"domain":[-10000,10000],"nice":false,"zero":false},"axis":{"values":[-10000,-7500,-5000,-2500,0,2500,5000,7500,10000],"format":"d","title":"Doppler velocity / km/s","tickSize":7,"labelPadding":10.5,"titlePadding":7.5,"labelFlush":false,"labelOverlap":false}},
  "y":{"field":"y","type":"quantitative","scale":{"domain":[0,100],"nice":false,"zero":false},"axis":{"title":"Scaled flux Fλ","labels":false,"ticks":false,"titlePadding":9}}
 },
 "layer":[
  {"transform":[{"filter":"datum.s==='a'||datum.s==='b'"}],"mark":{"type":"line","strokeWidth":3.6,"clip":true},"encoding":{"color":{"field":"s","type":"nominal","scale":{"domain":["a","b","c"],"range":["#4477AA","#CC6677","#DDCC77"]},"legend":{"labelExpr":"datum.label==='a'?'SN 1979c':datum.label==='b'?'SNR 4449-1':'SNR 1566-4'"}}}},
  {"transform":[{"filter":"datum.s==='r'"}],"mark":{"type":"line","strokeWidth":3.6,"clip":true,"color":"#DDCC77","opacity":0.3},"encoding":{}},
  {"transform":[{"filter":"datum.s==='c'"}],"mark":{"type":"line","strokeWidth":3.6,"clip":true,"interpolate":"monotone"},"encoding":{"color":{"field":"s","type":"nominal","scale":{"domain":["a","b","c"],"range":["#4477AA","#CC6677","#DDCC77"]},"legend":{"labelExpr":"datum.label==='a'?'SN 1979c':datum.label==='b'?'SNR 4449-1':'SNR 1566-4'"}}}}
 ]
},
{
 "width":1129,"height":550,
 "title":"[OI]6300Å",
 "data":{"name":"p2"},
 "encoding":{
  "x":{"field":"x","type":"quantitative","scale":{"domain":[-10000,10000],"nice":false,"zero":false},"axis":{"values":[-10000,-7500,-5000,-2500,0,2500,5000,7500,10000],"format":"d","title":"Doppler velocity / km/s","tickSize":7,"labelPadding":10.5,"titlePadding":7.5,"labelFlush":false,"labelOverlap":false}},
  "y":{"field":"y","type":"quantitative","scale":{"domain":[0,100],"nice":false,"zero":false},"axis":{"title":"Scaled flux Fλ","labels":false,"ticks":false,"titlePadding":9}}
 },
 "layer":[
  {"transform":[{"filter":"datum.s==='a'||datum.s==='b'"}],"mark":{"type":"line","strokeWidth":3.6,"clip":true},"encoding":{"color":{"field":"s","type":"nominal","scale":{"domain":["a","b","c"],"range":["#4477AA","#CC6677","#DDCC77"]},"legend":{"labelExpr":"datum.label==='a'?'SN 1979c':datum.label==='b'?'SNR 4449-1':'SNR 1566-4'"}}}},
  {"transform":[{"filter":"datum.s==='r'"}],"mark":{"type":"line","strokeWidth":3.6,"clip":true,"color":"#DDCC77","opacity":0.3},"encoding":{}},
  {"transform":[{"filter":"datum.s==='c'"}],"mark":{"type":"line","strokeWidth":3.6,"clip":true,"interpolate":"monotone"},"encoding":{"color":{"field":"s","type":"nominal","scale":{"domain":["a","b","c"],"range":["#4477AA","#CC6677","#DDCC77"]},"legend":{"labelExpr":"datum.label==='a'?'SN 1979c':datum.label==='b'?'SNR 4449-1':'SNR 1566-4'"}}}}
 ]
},
{
 "width":1129,"height":550,
 "data":{"name":"p3"},
 "encoding":{
  "x":{"field":"x","type":"quantitative","scale":{"domain":[-10000,10000],"nice":false,"zero":false},"axis":{"values":[-10000,-7500,-5000,-2500,0,2500,5000,7500,10000],"format":"d","title":"Doppler velocity / km/s","tickSize":7,"labelPadding":10.5,"titlePadding":7.5,"labelFlush":false,"labelOverlap":false}},
  "y":{"field":"y","type":"quantitative","scale":{"domain":[0,100],"nice":false,"zero":false},"axis":{"title":"Scaled flux Fλ","labels":false,"ticks":false,"titlePadding":9}}
 },
 "layer":[
  {"transform":[{"filter":"datum.s==='ra'"}],"mark":{"type":"line","strokeWidth":3.6,"clip":true,"color":"#4477AA","opacity":0.3},"encoding":{}},
  {"transform":[{"filter":"datum.s==='a'"}],"mark":{"type":"line","strokeWidth":3.6,"clip":true,"interpolate":"monotone"},"encoding":{"color":{"field":"s","type":"nominal","scale":{"domain":["a","b","c"],"range":["#4477AA","#CC6677","#DDCC77"]},"legend":{"labelExpr":"datum.label==='a'?'[OIII]5006.8Å':datum.label==='b'?'[OI]6300.3Å':'[OII]7319.9Å'"}}}},
  {"transform":[{"filter":"datum.s==='rb'"}],"mark":{"type":"line","strokeWidth":3.6,"clip":true,"color":"#CC6677","opacity":0.3},"encoding":{}},
  {"transform":[{"filter":"datum.s==='b'"}],"mark":{"type":"line","strokeWidth":3.6,"clip":true,"interpolate":"monotone"},"encoding":{"color":{"field":"s","type":"nominal","scale":{"domain":["a","b","c"],"range":["#4477AA","#CC6677","#DDCC77"]},"legend":{"labelExpr":"datum.label==='a'?'[OIII]5006.8Å':datum.label==='b'?'[OI]6300.3Å':'[OII]7319.9Å'"}}}},
  {"transform":[{"filter":"datum.s==='rc'"}],"mark":{"type":"line","strokeWidth":3.6,"clip":true,"color":"#DDCC77","opacity":0.3},"encoding":{}},
  {"transform":[{"filter":"datum.s==='c'"}],"mark":{"type":"line","strokeWidth":3.6,"clip":true,"interpolate":"monotone"},"encoding":{"color":{"field":"s","type":"nominal","scale":{"domain":["a","b","c"],"range":["#4477AA","#CC6677","#DDCC77"]},"legend":{"labelExpr":"datum.label==='a'?'[OIII]5006.8Å':datum.label==='b'?'[OI]6300.3Å':'[OII]7319.9Å'"}}}}
 ]
}
],
"resolve":{"scale":{"color":"independent","x":"independent","y":"independent"},"legend":{"color":"independent"}}
}
